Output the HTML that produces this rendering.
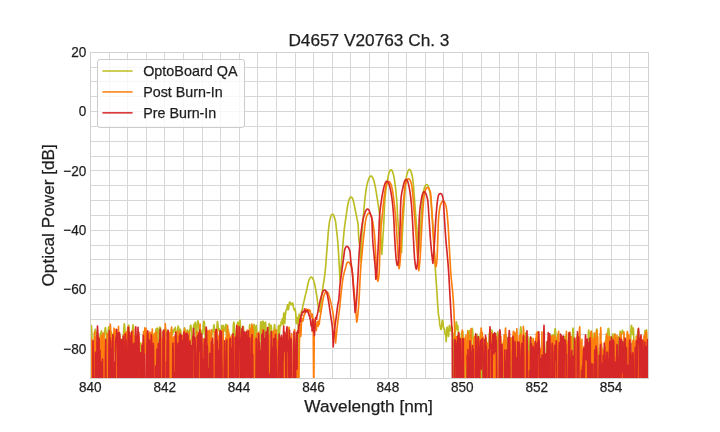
<!DOCTYPE html>
<html lang="en"><head><meta charset="utf-8"><title>D4657 V20763 Ch. 3</title>
<style>html,body{margin:0;padding:0;background:#fff}svg{display:block}text{font-family:"Liberation Sans",Arial,sans-serif;fill:#1e1e1e;stroke:#1e1e1e;stroke-width:0.25px}</style></head><body>
<svg width="720" height="432" viewBox="0 0 720 432">
<rect width="720" height="432" fill="#fff"/>
<path d="M109.5 52V379M127.5 52V379M146.5 52V379M164.5 52V379M183.5 52V379M202.5 52V379M220.5 52V379M239.5 52V379M257.5 52V379M276.5 52V379M295.5 52V379M313.5 52V379M332.5 52V379M350.5 52V379M369.5 52V379M388.5 52V379M406.5 52V379M425.5 52V379M443.5 52V379M462.5 52V379M481.5 52V379M499.5 52V379M518.5 52V379M536.5 52V379M555.5 52V379M574.5 52V379M592.5 52V379M611.5 52V379M629.5 52V379M90 363.5H649M90 348.5H649M90 334.5H649M90 319.5H649M90 304.5H649M90 289.5H649M90 274.5H649M90 259.5H649M90 245.5H649M90 230.5H649M90 215.5H649M90 200.5H649M90 185.5H649M90 170.5H649M90 156.5H649M90 141.5H649M90 126.5H649M90 111.5H649M90 96.5H649M90 81.5H649M90 67.5H649" stroke="#d7d7d7" stroke-width="1" fill="none"/>
<clipPath id="c"><rect x="90.0" y="51.84" width="558.0" height="326.15999999999997"/></clipPath>
<g clip-path="url(#c)" fill="none" stroke-width="1.65" stroke-linejoin="round">
<path d="M88.00 336.46 L88.25 332.61 L88.50 333.69 L88.75 346.75 L89.00 400.00 L89.25 400.00 L89.50 400.00 L89.75 347.40 L90.00 333.33 L90.25 328.66 L90.50 327.69 L90.75 328.01 L91.00 327.06 L91.25 325.48 L91.50 326.04 L91.75 330.51 L92.00 340.18 L92.25 355.63 L92.50 366.80 L92.75 373.59 L93.00 400.00 L93.25 400.00 L93.50 382.80 L93.75 354.07 L94.00 344.28 L94.25 338.99 L94.50 335.68 L94.75 332.67 L95.00 330.13 L95.25 329.35 L95.50 330.65 L95.75 332.73 L96.00 333.78 L96.25 333.90 L96.50 334.16 L96.75 334.94 L97.00 336.91 L97.25 341.35 L97.50 347.07 L97.75 347.85 L98.00 345.91 L98.25 348.81 L98.50 359.24 L98.75 362.25 L99.00 348.71 L99.25 340.44 L99.50 337.36 L99.75 337.39 L100.00 337.24 L100.25 334.92 L100.50 333.10 L100.75 333.18 L101.00 333.11 L101.25 331.55 L101.50 330.78 L101.75 333.30 L102.00 340.65 L102.25 351.12 L102.50 349.55 L102.75 341.88 L103.00 340.12 L103.25 346.09 L103.50 358.14 L103.75 350.14 L104.00 338.68 L104.25 334.10 L104.50 332.97 L104.75 331.74 L105.00 329.48 L105.25 327.76 L105.50 327.69 L105.75 329.37 L106.00 332.34 L106.25 336.73 L106.50 344.88 L106.75 364.58 L107.00 400.00 L107.25 400.00 L107.50 357.47 L107.75 344.61 L108.00 336.62 L108.25 331.55 L108.50 328.37 L108.75 326.90 L109.00 327.81 L109.25 331.89 L109.50 337.77 L109.75 339.10 L110.00 336.13 L110.25 335.02 L110.50 335.73 L110.75 335.19 L111.00 333.10 L111.25 331.94 L111.50 332.99 L111.75 335.85 L112.00 338.48 L112.25 338.24 L112.50 335.66 L112.75 334.60 L113.00 338.96 L113.25 351.98 L113.50 352.24 L113.75 337.81 L114.00 332.83 L114.25 335.33 L114.50 342.83 L114.75 350.34 L115.00 351.92 L115.25 347.67 L115.50 341.77 L115.75 337.88 L116.00 336.93 L116.25 339.00 L116.50 344.78 L116.75 356.95 L117.00 400.00 L117.25 400.00 L117.50 400.00 L117.75 368.44 L118.00 343.99 L118.25 335.13 L118.50 332.03 L118.75 332.11 L119.00 333.56 L119.25 334.93 L119.50 335.33 L119.75 335.50 L120.00 336.81 L120.25 339.56 L120.50 344.57 L120.75 356.62 L121.00 400.00 L121.25 359.47 L121.50 343.24 L121.75 339.30 L122.00 344.19 L122.25 362.47 L122.50 374.45 L122.75 347.88 L123.00 338.73 L123.25 335.86 L123.50 333.88 L123.75 330.12 L124.00 326.15 L124.25 323.89 L124.50 324.20 L124.75 327.29 L125.00 332.26 L125.25 336.19 L125.50 337.03 L125.75 337.09 L126.00 339.00 L126.25 343.34 L126.50 347.70 L126.75 348.25 L127.00 344.46 L127.25 337.41 L127.50 330.87 L127.75 327.39 L128.00 326.73 L128.25 326.76 L128.50 325.69 L128.75 325.16 L129.00 327.93 L129.25 335.87 L129.50 351.75 L129.75 399.74 L130.00 363.50 L130.25 344.00 L130.50 335.69 L130.75 334.22 L131.00 340.71 L131.25 374.71 L131.50 400.00 L131.75 353.61 L132.00 337.31 L132.25 331.82 L132.50 329.32 L132.75 326.86 L133.00 324.89 L133.25 325.36 L133.50 329.06 L133.75 335.21 L134.00 341.07 L134.25 342.08 L134.50 338.75 L134.75 336.23 L135.00 336.35 L135.25 338.05 L135.50 340.30 L135.75 343.78 L136.00 349.47 L136.25 359.04 L136.50 390.56 L136.75 400.00 L137.00 369.11 L137.25 350.49 L137.50 342.51 L137.75 337.97 L138.00 335.44 L138.25 335.18 L138.50 337.97 L138.75 345.11 L139.00 361.94 L139.25 400.00 L139.50 400.00 L139.75 400.00 L140.00 364.26 L140.25 349.44 L140.50 342.95 L140.75 343.89 L141.00 353.78 L141.25 369.08 L141.50 357.62 L141.75 349.03 L142.00 347.29 L142.25 349.56 L142.50 354.34 L142.75 355.05 L143.00 348.82 L143.25 343.88 L143.50 341.32 L143.75 339.47 L144.00 339.25 L144.25 342.10 L144.50 344.93 L144.75 342.43 L145.00 338.58 L145.25 336.85 L145.50 336.73 L145.75 337.07 L146.00 337.45 L146.25 338.08 L146.50 339.61 L146.75 341.91 L147.00 342.30 L147.25 339.99 L147.50 338.81 L147.75 341.22 L148.00 349.22 L148.25 400.00 L148.50 400.00 L148.75 400.00 L149.00 400.00 L149.25 379.47 L149.50 345.71 L149.75 338.70 L150.00 338.27 L150.25 342.75 L150.50 348.85 L150.75 346.51 L151.00 338.32 L151.25 333.28 L151.50 332.49 L151.75 334.41 L152.00 337.44 L152.25 340.72 L152.50 340.86 L152.75 337.01 L153.00 334.33 L153.25 334.56 L153.50 336.23 L153.75 337.50 L154.00 337.96 L154.25 339.16 L154.50 344.43 L154.75 362.75 L155.00 400.00 L155.25 364.61 L155.50 341.24 L155.75 332.74 L156.00 329.23 L156.25 328.68 L156.50 329.89 L156.75 331.12 L157.00 330.30 L157.25 328.34 L157.50 328.20 L157.75 331.47 L158.00 338.04 L158.25 345.82 L158.50 349.15 L158.75 344.30 L159.00 336.97 L159.25 331.39 L159.50 328.29 L159.75 327.16 L160.00 327.01 L160.25 327.26 L160.50 328.30 L160.75 331.22 L161.00 337.36 L161.25 347.95 L161.50 368.16 L161.75 400.00 L162.00 400.00 L162.25 400.00 L162.50 350.58 L162.75 341.35 L163.00 341.50 L163.25 349.76 L163.50 375.10 L163.75 400.00 L164.00 400.00 L164.25 400.00 L164.50 400.00 L164.75 347.90 L165.00 335.01 L165.25 329.21 L165.50 327.60 L165.75 329.30 L166.00 333.01 L166.25 335.50 L166.50 333.99 L166.75 331.25 L167.00 330.80 L167.25 334.45 L167.50 343.52 L167.75 357.30 L168.00 363.61 L168.25 360.55 L168.50 354.41 L168.75 344.78 L169.00 337.69 L169.25 335.22 L169.50 336.69 L169.75 339.30 L170.00 339.49 L170.25 338.73 L170.50 339.17 L170.75 337.83 L171.00 333.41 L171.25 329.84 L171.50 328.94 L171.75 330.32 L172.00 332.89 L172.25 334.88 L172.50 334.47 L172.75 332.23 L173.00 330.53 L173.25 330.74 L173.50 332.12 L173.75 332.05 L174.00 330.07 L174.25 328.88 L174.50 329.62 L174.75 330.35 L175.00 328.91 L175.25 327.42 L175.50 328.74 L175.75 333.20 L176.00 338.80 L176.25 343.92 L176.50 348.07 L176.75 344.44 L177.00 336.83 L177.25 332.31 L177.50 330.35 L177.75 328.74 L178.00 326.91 L178.25 326.07 L178.50 327.16 L178.75 330.28 L179.00 333.91 L179.25 334.46 L179.50 331.67 L179.75 329.38 L180.00 329.06 L180.25 329.59 L180.50 329.84 L180.75 330.77 L181.00 334.18 L181.25 341.59 L181.50 354.87 L181.75 363.67 L182.00 351.70 L182.25 344.64 L182.50 343.91 L182.75 348.07 L183.00 352.64 L183.25 346.62 L183.50 338.10 L183.75 333.57 L184.00 331.47 L184.25 329.44 L184.50 327.77 L184.75 328.54 L185.00 334.08 L185.25 350.75 L185.50 400.00 L185.75 400.00 L186.00 400.00 L186.25 360.24 L186.50 341.45 L186.75 333.45 L187.00 330.32 L187.25 329.89 L187.50 330.53 L187.75 331.68 L188.00 333.00 L188.25 333.42 L188.50 332.49 L188.75 331.30 L189.00 330.80 L189.25 330.96 L189.50 331.22 L189.75 330.82 L190.00 329.10 L190.25 326.88 L190.50 325.43 L190.75 325.14 L191.00 326.17 L191.25 328.86 L191.50 332.84 L191.75 336.47 L192.00 339.97 L192.25 348.71 L192.50 400.00 L192.75 400.00 L193.00 359.74 L193.25 336.07 L193.50 327.63 L193.75 324.48 L194.00 324.79 L194.25 327.05 L194.50 328.40 L194.75 326.55 L195.00 323.57 L195.25 322.42 L195.50 324.18 L195.75 328.90 L196.00 335.99 L196.25 343.01 L196.50 342.44 L196.75 334.89 L197.00 328.21 L197.25 324.16 L197.50 322.04 L197.75 321.03 L198.00 320.86 L198.25 321.51 L198.50 323.04 L198.75 325.68 L199.00 329.21 L199.25 332.66 L199.50 335.12 L199.75 336.34 L200.00 336.40 L200.25 336.64 L200.50 339.21 L200.75 345.61 L201.00 353.21 L201.25 348.37 L201.50 338.50 L201.75 332.61 L202.00 330.37 L202.25 330.63 L202.50 332.36 L202.75 333.62 L203.00 331.78 L203.25 327.76 L203.50 324.12 L203.75 321.87 L204.00 321.16 L204.25 321.77 L204.50 323.49 L204.75 326.85 L205.00 333.20 L205.25 342.14 L205.50 343.33 L205.75 335.73 L206.00 330.82 L206.25 330.02 L206.50 332.51 L206.75 337.99 L207.00 347.61 L207.25 360.04 L207.50 355.52 L207.75 345.14 L208.00 340.19 L208.25 341.41 L208.50 352.33 L208.75 400.00 L209.00 360.61 L209.25 342.03 L209.50 334.83 L209.75 332.08 L210.00 332.65 L210.25 336.43 L210.50 340.91 L210.75 341.56 L211.00 341.40 L211.25 343.88 L211.50 343.58 L211.75 337.29 L212.00 332.07 L212.25 330.19 L212.50 330.67 L212.75 331.66 L213.00 331.90 L213.25 331.05 L213.50 328.58 L213.75 325.70 L214.00 324.79 L214.25 326.62 L214.50 331.14 L214.75 341.95 L215.00 400.00 L215.25 400.00 L215.50 400.00 L215.75 400.00 L216.00 353.95 L216.25 339.45 L216.50 335.24 L216.75 331.19 L217.00 326.17 L217.25 322.58 L217.50 321.56 L217.75 322.81 L218.00 325.45 L218.25 328.40 L218.50 330.21 L218.75 329.89 L219.00 328.70 L219.25 328.70 L219.50 330.59 L219.75 333.04 L220.00 334.57 L220.25 337.25 L220.50 345.50 L220.75 371.38 L221.00 373.78 L221.25 342.11 L221.50 330.58 L221.75 325.83 L222.00 325.23 L222.25 327.20 L222.50 330.01 L222.75 331.34 L223.00 329.79 L223.25 327.04 L223.50 325.68 L223.75 326.59 L224.00 328.71 L224.25 329.52 L224.50 328.67 L224.75 328.80 L225.00 330.96 L225.25 331.73 L225.50 328.20 L225.75 324.68 L226.00 324.40 L226.25 328.82 L226.50 344.12 L226.75 400.00 L227.00 400.00 L227.25 400.00 L227.50 352.19 L227.75 334.73 L228.00 330.27 L228.25 329.49 L228.50 330.66 L228.75 333.39 L229.00 338.47 L229.25 355.02 L229.50 400.00 L229.75 400.00 L230.00 400.00 L230.25 400.00 L230.50 400.00 L230.75 400.00 L231.00 400.00 L231.25 400.00 L231.50 400.00 L231.75 377.34 L232.00 339.70 L232.25 334.38 L232.50 335.85 L232.75 338.60 L233.00 334.36 L233.25 327.50 L233.50 323.48 L233.75 322.20 L234.00 322.57 L234.25 324.45 L234.50 328.74 L234.75 335.52 L235.00 339.60 L235.25 336.66 L235.50 334.48 L235.75 336.88 L236.00 341.79 L236.25 341.07 L236.50 334.80 L236.75 329.77 L237.00 326.83 L237.25 324.86 L237.50 323.23 L237.75 322.20 L238.00 322.57 L238.25 325.26 L238.50 330.55 L238.75 336.14 L239.00 335.35 L239.25 328.92 L239.50 323.18 L239.75 320.24 L240.00 320.36 L240.25 322.97 L240.50 326.93 L240.75 331.51 L241.00 336.11 L241.25 338.37 L241.50 338.32 L241.75 338.40 L242.00 337.28 L242.25 333.66 L242.50 329.91 L242.75 327.54 L243.00 326.43 L243.25 326.31 L243.50 327.70 L243.75 332.54 L244.00 349.30 L244.25 400.00 L244.50 400.00 L244.75 400.00 L245.00 353.92 L245.25 336.78 L245.50 335.49 L245.75 341.00 L246.00 351.66 L246.25 363.22 L246.50 372.72 L246.75 386.10 L247.00 367.89 L247.25 355.79 L247.50 359.47 L247.75 400.00 L248.00 400.00 L248.25 400.00 L248.50 400.00 L248.75 400.00 L249.00 348.40 L249.25 332.70 L249.50 326.17 L249.75 324.67 L250.00 327.16 L250.25 333.37 L250.50 341.94 L250.75 346.63 L251.00 343.82 L251.25 338.33 L251.50 333.47 L251.75 330.73 L252.00 330.01 L252.25 330.50 L252.50 331.55 L252.75 332.64 L253.00 332.95 L253.25 331.48 L253.50 328.41 L253.75 325.51 L254.00 324.42 L254.25 325.82 L254.50 329.73 L254.75 336.37 L255.00 347.90 L255.25 358.36 L255.50 342.51 L255.75 331.06 L256.00 326.16 L256.25 325.40 L256.50 327.66 L256.75 333.35 L257.00 347.43 L257.25 400.00 L257.50 400.00 L257.75 400.00 L258.00 400.00 L258.25 400.00 L258.50 400.00 L258.75 400.00 L259.00 400.00 L259.25 364.61 L259.50 351.70 L259.75 350.41 L260.00 340.26 L260.25 330.53 L260.50 324.64 L260.75 321.82 L261.00 321.69 L261.25 324.12 L261.50 328.38 L261.75 332.37 L262.00 333.07 L262.25 330.15 L262.50 326.20 L262.75 322.98 L263.00 321.20 L263.25 321.25 L263.50 323.24 L263.75 327.20 L264.00 333.15 L264.25 339.07 L264.50 338.12 L264.75 331.20 L265.00 325.32 L265.25 322.34 L265.50 322.19 L265.75 324.40 L266.00 328.31 L266.25 332.38 L266.50 333.90 L266.75 332.98 L267.00 332.73 L267.25 334.65 L267.50 338.45 L267.75 342.61 L268.00 344.22 L268.25 342.14 L268.50 337.27 L268.75 331.12 L269.00 326.07 L269.25 323.61 L269.50 324.24 L269.75 328.00 L270.00 333.83 L270.25 336.76 L270.50 332.81 L270.75 327.74 L271.00 325.38 L271.25 326.11 L271.50 328.94 L271.75 332.24 L272.00 334.50 L272.25 334.76 L272.50 333.35 L272.75 332.20 L273.00 332.24 L273.25 333.03 L273.50 333.74 L273.75 333.08 L274.00 330.01 L274.25 326.38 L274.50 324.65 L274.75 325.82 L275.00 329.04 L275.25 330.75 L275.50 329.65 L275.75 329.87 L276.00 334.14 L276.25 343.44 L276.50 363.06 L276.75 400.00 L277.00 400.00 L277.25 400.00 L277.50 400.00 L277.75 349.14 L278.00 333.09 L278.25 326.95 L278.50 325.58 L278.75 327.68 L279.00 332.22 L279.25 335.80 L279.50 333.26 L279.75 328.15 L280.00 325.19 L280.25 325.00 L280.50 326.07 L280.75 325.58 L281.00 323.11 L281.25 321.42 L281.50 322.63 L282.00 322.86 L282.25 318.74 L282.50 319.56 L282.76 322.17 L283.01 324.94 L283.26 319.05 L283.51 316.02 L283.77 313.61 L284.02 312.96 L284.27 315.76 L284.52 322.59 L284.78 323.41 L285.03 319.16 L285.28 315.18 L285.53 313.97 L285.79 310.79 L286.04 310.52 L286.29 309.97 L286.54 308.98 L286.80 309.54 L287.05 309.64 L287.30 305.54 L287.55 304.71 L287.80 305.33 L288.06 307.86 L288.31 309.72 L288.56 309.02 L288.81 306.94 L289.07 304.34 L289.32 303.22 L289.57 302.30 L289.82 301.86 L290.08 302.86 L290.33 303.59 L290.58 304.24 L290.83 304.64 L291.09 304.81 L291.34 303.58 L291.59 303.50 L291.84 304.40 L292.10 304.69 L292.35 303.51 L292.60 302.93 L292.85 303.95 L293.10 305.10 L293.36 306.74 L293.61 307.73 L293.86 308.50 L294.11 309.32 L294.37 309.88 L294.62 308.82 L294.87 308.70 L295.12 310.86 L295.38 310.06 L295.63 312.35 L295.88 315.66 L296.13 322.44 L296.39 323.50 L296.64 317.22 L296.89 318.71 L297.14 317.30 L297.40 318.70 L297.65 319.11 L297.90 318.64 L298.15 326.23 L298.40 372.29 L298.65 336.61 L298.90 317.43 L299.16 313.97 L299.41 317.84 L299.66 321.93 L299.91 321.85 L300.16 318.03 L300.41 320.97 L300.66 318.76 L300.91 314.33 L301.16 312.80 L301.42 311.74 L301.67 310.38 L301.92 311.33 L302.17 310.58 L302.42 308.55 L302.67 306.97 L302.92 305.58 L303.17 303.98 L303.42 303.54 L303.68 302.49 L303.93 301.52 L304.18 300.32 L304.43 299.26 L304.68 298.06 L304.93 296.85 L305.18 295.90 L305.43 294.91 L305.69 294.02 L305.94 293.06 L306.19 292.10 L306.44 291.10 L306.69 290.04 L306.94 288.88 L307.19 287.61 L307.44 286.30 L307.69 285.00 L307.95 283.78 L308.20 282.70 L308.45 281.80 L308.70 280.99 L308.95 280.27 L309.20 279.62 L309.45 279.03 L309.70 278.53 L309.95 278.11 L310.21 277.74 L310.46 277.47 L310.71 277.30 L310.96 277.17 L311.21 277.10 L311.46 277.14 L311.71 277.25 L311.96 277.41 L312.21 277.64 L312.47 277.98 L312.72 278.39 L312.97 278.86 L313.22 279.43 L313.47 280.06 L313.72 280.75 L313.97 281.53 L314.22 282.40 L314.48 283.39 L314.73 284.48 L314.98 285.67 L315.23 286.93 L315.48 288.25 L315.73 289.62 L315.98 291.02 L316.23 292.51 L316.48 294.08 L316.74 295.73 L316.99 297.48 L317.24 299.42 L317.49 301.77 L317.74 303.97 L317.99 305.46 L318.24 306.72 L318.49 307.92 L318.74 309.02 L319.00 310.00 L319.25 310.83 L319.50 311.46 L319.75 311.86 L320.00 312.00 L320.25 309.50 L320.50 307.05 L320.76 304.65 L321.01 302.31 L321.26 300.02 L321.51 297.80 L321.77 295.65 L322.02 293.58 L322.27 291.58 L322.52 289.71 L322.78 287.98 L323.03 286.36 L323.28 284.81 L323.54 283.28 L323.79 281.74 L324.04 280.15 L324.29 278.48 L324.55 276.68 L324.80 274.72 L325.05 272.55 L325.30 270.06 L325.56 267.26 L325.81 264.22 L326.06 261.03 L326.31 257.75 L326.56 254.47 L326.82 251.27 L327.07 248.11 L327.32 244.78 L327.57 241.36 L327.83 237.97 L328.08 234.73 L328.33 231.75 L328.58 229.14 L328.84 226.85 L329.09 224.75 L329.34 222.93 L329.59 221.47 L329.85 220.22 L330.10 219.10 L330.35 218.11 L330.61 217.24 L330.86 216.48 L331.11 215.84 L331.36 215.28 L331.62 214.84 L331.87 214.57 L332.12 214.35 L332.37 214.22 L332.62 214.22 L332.88 214.35 L333.13 214.56 L333.38 214.84 L333.63 215.28 L333.89 215.84 L334.14 216.48 L334.39 217.26 L334.64 218.13 L334.90 219.02 L335.15 219.91 L335.40 220.96 L335.65 222.35 L335.91 224.38 L336.16 226.78 L336.41 229.11 L336.66 231.21 L336.92 233.26 L337.17 235.47 L337.42 237.99 L337.68 240.95 L337.93 244.28 L338.18 247.92 L338.43 251.79 L338.69 255.83 L338.94 259.97 L339.19 264.38 L339.44 269.17 L339.69 273.60 L339.95 277.68 L340.20 281.50 L340.45 277.51 L340.70 273.62 L340.95 269.84 L341.20 266.19 L341.45 262.65 L341.70 259.25 L341.95 255.99 L342.20 252.85 L342.46 249.81 L342.71 246.85 L342.96 243.94 L343.21 241.06 L343.46 238.17 L343.71 235.23 L343.96 232.40 L344.21 229.83 L344.46 227.62 L344.71 225.62 L344.96 223.76 L345.21 222.01 L345.46 220.33 L345.71 218.68 L345.96 217.02 L346.21 215.31 L346.47 213.54 L346.72 211.76 L346.97 210.01 L347.22 208.34 L347.47 206.79 L347.72 205.41 L347.97 204.20 L348.22 203.05 L348.47 201.98 L348.72 201.00 L348.97 200.13 L349.22 199.40 L349.47 198.78 L349.72 198.22 L349.97 197.76 L350.22 197.46 L350.47 197.29 L350.73 197.16 L350.98 197.10 L351.23 197.14 L351.48 197.26 L351.73 197.42 L351.98 197.65 L352.23 197.99 L352.48 198.41 L352.73 198.97 L352.98 199.71 L353.23 200.56 L353.48 201.47 L353.73 202.51 L353.98 203.65 L354.23 204.86 L354.48 206.13 L354.73 207.42 L354.99 208.72 L355.24 209.99 L355.49 211.22 L355.74 212.42 L355.99 213.60 L356.24 214.80 L356.49 216.02 L356.74 217.28 L356.99 218.60 L357.24 219.93 L357.49 221.09 L357.74 222.36 L357.99 224.05 L358.24 226.64 L358.49 233.66 L358.74 237.90 L359.00 240.49 L359.25 242.48 L359.50 244.24 L359.75 246.12 L360.00 248.47 L360.25 251.39 L360.50 254.67 L360.75 258.23 L361.00 262.00 L361.25 251.23 L361.50 242.53 L361.75 236.87 L362.00 232.67 L362.25 229.21 L362.50 225.95 L362.75 222.75 L363.00 219.78 L363.26 216.97 L363.51 214.26 L363.76 211.58 L364.01 208.86 L364.26 206.03 L364.51 202.99 L364.76 200.32 L365.01 198.10 L365.26 196.01 L365.51 194.04 L365.76 192.20 L366.01 190.48 L366.26 188.89 L366.51 187.42 L366.76 186.08 L367.01 184.86 L367.27 183.78 L367.52 182.82 L367.77 181.92 L368.02 181.07 L368.27 180.26 L368.52 179.51 L368.77 178.84 L369.02 178.24 L369.27 177.70 L369.52 177.25 L369.77 176.86 L370.02 176.53 L370.27 176.31 L370.52 176.15 L370.77 176.04 L371.02 176.00 L371.27 176.06 L371.53 176.18 L371.78 176.34 L372.03 176.58 L372.28 176.93 L372.53 177.33 L372.78 177.80 L373.03 178.35 L373.28 178.96 L373.53 179.64 L373.78 180.40 L374.03 181.24 L374.28 182.19 L374.53 183.23 L374.78 184.37 L375.03 185.57 L375.28 186.84 L375.53 188.18 L375.79 189.59 L376.04 191.05 L376.29 192.57 L376.54 194.13 L376.79 195.73 L377.04 197.36 L377.29 199.00 L377.54 200.66 L377.79 202.24 L378.04 203.74 L378.29 205.21 L378.54 206.71 L378.79 208.30 L379.04 210.03 L379.29 211.97 L379.54 214.16 L379.80 216.67 L380.05 219.60 L380.30 224.31 L380.55 230.29 L380.80 235.95 L381.05 240.85 L381.30 245.58 L381.55 250.14 L381.80 254.50 L382.05 250.77 L382.31 246.95 L382.56 243.04 L382.81 239.05 L383.06 234.99 L383.32 230.96 L383.57 226.84 L383.82 222.43 L384.07 217.42 L384.33 210.80 L384.58 204.55 L384.83 200.85 L385.08 197.88 L385.34 195.20 L385.59 192.78 L385.84 190.58 L386.09 188.59 L386.35 186.77 L386.60 185.09 L386.85 183.55 L387.10 182.09 L387.36 180.71 L387.61 179.37 L387.86 178.04 L388.11 176.72 L388.37 175.54 L388.62 174.50 L388.87 173.56 L389.12 172.70 L389.38 171.95 L389.63 171.34 L389.88 170.78 L390.13 170.36 L390.39 170.09 L390.64 169.89 L390.89 169.76 L391.14 169.77 L391.40 169.91 L391.65 170.13 L391.90 170.41 L392.16 170.86 L392.41 171.42 L392.66 172.05 L392.91 172.82 L393.17 173.69 L393.42 174.64 L393.67 175.68 L393.92 176.90 L394.18 178.30 L394.43 179.81 L394.68 181.44 L394.93 183.19 L395.19 185.08 L395.44 187.12 L395.69 189.33 L395.94 191.71 L396.20 194.27 L396.45 197.04 L396.70 200.01 L396.95 203.26 L397.21 208.06 L397.46 213.69 L397.71 218.46 L397.96 221.85 L398.22 225.18 L398.47 228.45 L398.72 231.64 L398.97 234.71 L399.23 237.63 L399.48 240.38 L399.73 242.94 L399.98 245.26 L400.24 247.32 L400.49 249.09 L400.74 250.55 L400.99 251.67 L401.25 252.41 L401.50 252.75 L401.75 247.25 L402.00 241.86 L402.25 236.63 L402.50 231.60 L402.75 226.83 L403.00 222.35 L403.25 218.19 L403.50 214.13 L403.75 210.08 L404.00 206.06 L404.25 202.12 L404.50 198.30 L404.75 194.63 L405.00 191.15 L405.25 187.90 L405.50 184.91 L405.75 182.23 L406.00 179.89 L406.25 177.94 L406.50 176.39 L406.75 175.20 L407.00 174.21 L407.25 173.29 L407.50 172.43 L407.75 171.67 L408.00 171.05 L408.25 170.50 L408.50 170.05 L408.75 169.78 L409.00 169.57 L409.25 169.43 L409.50 169.41 L409.75 169.53 L410.00 169.73 L410.25 169.99 L410.50 170.40 L410.75 170.94 L411.00 171.54 L411.25 172.27 L411.50 173.11 L411.75 174.02 L412.00 175.00 L412.25 176.14 L412.50 177.57 L412.75 179.37 L413.00 181.51 L413.25 183.96 L413.50 186.66 L413.75 189.58 L414.00 192.68 L414.25 195.92 L414.50 199.26 L414.75 202.65 L415.00 206.05 L415.25 209.43 L415.50 212.74 L415.75 215.95 L416.00 219.00 L416.25 221.97 L416.50 224.95 L416.75 227.94 L417.00 230.93 L417.25 233.93 L417.50 236.94 L417.75 239.96 L418.00 242.99 L418.25 246.02 L418.50 249.06 L418.75 252.10 L419.00 248.01 L419.25 244.01 L419.50 240.10 L419.75 236.29 L420.00 232.58 L420.25 229.00 L420.50 225.53 L420.75 222.20 L421.00 219.00 L421.25 215.83 L421.50 212.59 L421.75 209.36 L422.00 206.18 L422.25 203.11 L422.50 200.22 L422.75 197.54 L423.00 195.15 L423.25 193.10 L423.50 191.44 L423.75 190.20 L424.00 189.25 L424.25 188.45 L424.50 187.69 L424.75 186.99 L425.00 186.38 L425.25 185.88 L425.50 185.43 L425.75 185.09 L426.00 184.88 L426.25 184.71 L426.50 184.61 L426.75 184.62 L427.00 184.74 L427.25 184.92 L427.50 185.14 L427.75 185.52 L428.00 185.98 L428.25 186.50 L428.50 187.12 L428.75 187.84 L429.00 188.61 L429.25 189.43 L429.50 190.43 L429.75 191.70 L430.00 193.29 L430.25 195.18 L430.50 197.33 L430.75 199.72 L431.00 202.30 L431.25 205.05 L431.50 207.94 L431.75 210.94 L432.00 214.01 L432.25 217.12 L432.50 220.28 L432.75 223.75 L433.00 227.53 L433.25 231.59 L433.50 235.87 L433.75 240.31 L434.00 244.85 L434.25 249.46 L434.50 254.06 L434.75 258.62 L435.00 263.07 L435.25 267.36 L435.50 271.44 L435.75 275.27 L436.00 278.90 L436.25 282.43 L436.50 285.93 L436.75 289.48 L437.00 293.20 L437.25 297.28 L437.50 301.45 L437.75 305.59 L438.00 308.97 L438.25 311.94 L438.50 315.33 L438.75 316.43 L439.00 317.44 L439.25 318.92 L439.50 321.08 L439.70 324.79 L439.95 325.23 L440.20 326.13 L440.45 327.66 L440.70 329.06 L440.95 329.53 L441.20 329.45 L441.45 328.57 L441.70 326.04 L441.95 322.86 L442.20 320.67 L442.45 320.08 L442.70 320.82 L442.95 322.59 L443.20 324.95 L443.45 326.94 L443.70 327.94 L443.95 328.53 L444.20 328.97 L444.45 329.15 L444.70 330.20 L444.95 332.94 L445.20 334.64 L445.45 333.69 L445.70 334.00 L445.95 337.96 L446.20 341.63 L446.45 337.29 L446.70 330.75 L446.95 327.36 L447.20 327.23 L447.45 328.94 L447.70 330.93 L447.95 332.84 L448.20 334.84 L448.45 336.50 L448.70 335.45 L448.95 331.07 L449.20 326.93 L449.45 325.26 L449.70 326.08 L449.95 328.28 L450.20 330.12 L450.45 330.40 L450.70 329.98 L450.95 330.31 L451.20 330.92 L451.45 329.76 L451.70 327.25 L451.95 326.10 L452.20 328.00 L452.45 332.68 L452.70 336.33 L452.95 334.85 L453.20 333.44 L453.45 338.07 L453.70 361.58 L453.95 400.00 L454.20 364.85 L454.45 339.40 L454.70 333.92 L454.95 333.25 L455.20 333.05 L455.45 331.23 L455.70 328.06 L455.95 324.57 L456.20 322.16 L456.45 321.88 L456.70 324.11 L456.95 327.85 L457.20 329.39 L457.45 327.24 L457.70 325.48 L457.95 326.84 L458.20 332.26 L458.45 342.51 L458.70 355.97 L458.95 356.85 L459.20 348.78 L459.45 346.12 L459.70 357.97 L459.95 400.00 L460.20 400.00 L460.45 400.00 L460.70 400.00 L460.96 362.68 L461.21 339.79 L461.46 334.38 L461.71 332.65 L461.96 332.31 L462.21 332.07 L462.46 331.44 L462.71 331.31 L462.96 333.83 L463.21 342.47 L463.46 400.00 L463.71 400.00 L463.96 400.00 L464.21 367.69 L464.46 348.67 L464.71 346.71 L464.96 347.82 L465.21 346.74 L465.46 347.14 L465.71 357.94 L465.96 400.00 L466.21 400.00 L466.46 400.00 L466.71 400.00 L466.96 369.84 L467.21 343.60 L467.46 334.29 L467.71 330.60 L467.96 331.02 L468.21 334.20 L468.46 336.34 L468.71 334.12 L468.96 331.06 L469.21 330.57 L469.46 333.38 L469.71 339.20 L469.96 346.93 L470.21 352.53 L470.46 349.96 L470.71 344.46 L470.96 341.21 L471.21 339.42 L471.46 336.52 L471.71 332.49 L471.96 329.45 L472.21 328.40 L472.46 329.22 L472.71 331.90 L472.96 337.49 L473.21 349.13 L473.46 385.20 L473.71 400.00 L473.96 400.00 L474.21 400.00 L474.46 400.00 L474.71 400.00 L474.96 373.70 L475.21 355.97 L475.46 355.33 L475.71 366.91 L475.96 400.00 L476.21 400.00 L476.46 353.53 L476.71 340.31 L476.96 335.04 L477.21 334.44 L477.46 337.74 L477.71 343.64 L477.96 347.83 L478.21 346.04 L478.46 341.74 L478.71 338.42 L478.96 337.26 L479.21 339.33 L479.46 344.83 L479.71 348.91 L479.96 344.30 L480.21 337.52 L480.46 333.41 L480.71 332.22 L480.96 333.43 L481.21 337.59 L481.46 350.59 L481.71 400.00 L481.96 400.00 L482.21 380.25 L482.46 345.38 L482.71 342.87 L482.96 347.67 L483.21 355.24 L483.46 356.26 L483.71 352.66 L483.96 354.05 L484.21 377.17 L484.46 400.00 L484.71 400.00 L484.96 400.00 L485.21 400.00 L485.46 346.81 L485.71 339.50 L485.96 337.53 L486.21 338.67 L486.46 341.34 L486.71 343.56 L486.96 346.73 L487.21 362.20 L487.46 400.00 L487.71 400.00 L487.96 400.00 L488.21 400.00 L488.46 400.00 L488.71 389.93 L488.96 340.01 L489.21 333.72 L489.46 333.90 L489.71 340.32 L489.96 381.07 L490.21 400.00 L490.46 400.00 L490.71 400.00 L490.96 390.17 L491.21 341.57 L491.46 333.11 L491.71 330.11 L491.96 330.44 L492.21 332.92 L492.46 336.29 L492.71 339.12 L492.96 341.73 L493.21 346.55 L493.46 353.91 L493.71 361.52 L493.96 400.00 L494.21 400.00 L494.46 400.00 L494.71 400.00 L494.96 400.00 L495.21 355.63 L495.46 340.56 L495.71 338.41 L495.96 346.00 L496.21 400.00 L496.46 400.00 L496.71 400.00 L496.96 380.68 L497.21 340.23 L497.46 333.28 L497.71 331.97 L497.96 333.57 L498.21 336.30 L498.46 339.03 L498.71 341.56 L498.96 344.34 L499.21 347.84 L499.46 350.25 L499.71 348.79 L499.96 345.02 L500.21 341.84 L500.46 340.93 L500.71 342.29 L500.96 343.65 L501.21 344.93 L501.46 355.13 L501.71 400.00 L501.96 400.00 L502.21 400.00 L502.46 400.00 L502.71 400.00 L502.97 400.00 L503.22 346.17 L503.47 342.48 L503.72 345.66 L503.97 351.02 L504.22 352.31 L504.47 349.66 L504.72 347.12 L504.97 344.87 L505.22 341.39 L505.47 337.23 L505.72 334.46 L505.97 334.60 L506.22 339.09 L506.47 349.03 L506.72 354.94 L506.97 346.88 L507.22 342.68 L507.47 345.26 L507.72 355.07 L507.97 400.00 L508.22 400.00 L508.47 400.00 L508.72 367.78 L508.97 347.88 L509.22 343.66 L509.47 344.34 L509.72 348.11 L509.97 357.29 L510.22 391.85 L510.47 400.00 L510.72 360.89 L510.97 348.02 L511.22 344.06 L511.47 347.19 L511.72 363.77 L511.97 400.00 L512.22 400.00 L512.47 400.00 L512.72 375.68 L512.97 349.63 L513.22 341.40 L513.47 337.80 L513.72 338.16 L513.97 343.29 L514.22 356.18 L514.47 400.00 L514.72 368.52 L514.97 345.21 L515.22 336.07 L515.47 333.49 L515.72 337.25 L515.97 357.12 L516.22 400.00 L516.47 400.00 L516.72 400.00 L516.97 400.00 L517.22 400.00 L517.47 385.71 L517.72 365.86 L517.97 353.44 L518.22 346.09 L518.47 344.53 L518.72 346.42 L518.97 348.21 L519.22 347.47 L519.47 344.29 L519.72 340.17 L519.97 336.28 L520.22 332.52 L520.47 329.03 L520.72 326.94 L520.97 327.42 L521.22 331.45 L521.47 341.09 L521.72 383.06 L521.97 400.00 L522.22 400.00 L522.47 400.00 L522.72 379.43 L522.97 370.65 L523.22 362.97 L523.47 348.83 L523.72 340.20 L523.97 336.70 L524.22 337.35 L524.47 342.41 L524.72 353.81 L524.97 361.51 L525.22 345.35 L525.47 335.37 L525.72 332.71 L525.97 335.73 L526.22 342.82 L526.47 349.31 L526.72 348.44 L526.97 343.30 L527.22 338.86 L527.47 336.51 L527.72 336.20 L527.97 338.04 L528.22 343.78 L528.47 359.30 L528.72 400.00 L528.97 362.17 L529.22 348.00 L529.47 345.32 L529.72 346.75 L529.97 344.86 L530.22 339.91 L530.47 338.22 L530.72 341.30 L530.97 345.65 L531.22 344.09 L531.47 339.57 L531.72 338.05 L531.97 343.80 L532.22 400.00 L532.47 400.00 L532.72 400.00 L532.97 400.00 L533.22 400.00 L533.47 400.00 L533.72 391.06 L533.97 376.20 L534.22 358.14 L534.47 349.52 L534.72 346.09 L534.97 344.64 L535.22 343.52 L535.47 345.29 L535.72 364.68 L535.97 400.00 L536.22 400.00 L536.47 400.00 L536.72 400.00 L536.97 400.00 L537.22 400.00 L537.47 400.00 L537.72 400.00 L537.97 400.00 L538.22 400.00 L538.47 361.05 L538.72 344.55 L538.97 346.87 L539.22 400.00 L539.47 400.00 L539.72 400.00 L539.97 400.00 L540.22 400.00 L540.47 400.00 L540.72 400.00 L540.97 363.12 L541.22 356.77 L541.47 357.81 L541.72 356.81 L541.97 352.60 L542.22 351.02 L542.47 354.75 L542.72 363.55 L542.97 369.33 L543.22 371.13 L543.47 400.00 L543.72 400.00 L543.97 400.00 L544.22 400.00 L544.47 370.89 L544.72 354.38 L544.98 367.42 L545.23 400.00 L545.48 400.00 L545.73 400.00 L545.98 359.53 L546.23 350.07 L546.48 344.47 L546.73 342.11 L546.98 342.32 L547.23 342.64 L547.48 343.77 L547.73 352.19 L547.98 400.00 L548.23 400.00 L548.48 350.60 L548.73 345.10 L548.98 348.72 L549.23 357.64 L549.48 400.00 L549.73 400.00 L549.98 400.00 L550.23 400.00 L550.48 400.00 L550.73 355.35 L550.98 341.55 L551.23 337.26 L551.48 335.79 L551.73 336.02 L551.98 336.97 L552.23 336.88 L552.48 335.39 L552.73 334.80 L552.98 337.01 L553.23 341.57 L553.48 344.63 L553.73 344.01 L553.98 342.71 L554.23 340.72 L554.48 336.68 L554.73 332.19 L554.98 329.22 L555.23 328.48 L555.48 330.06 L555.73 333.65 L555.98 338.31 L556.23 342.41 L556.48 347.35 L556.73 368.86 L556.98 400.00 L557.23 400.00 L557.48 348.50 L557.73 336.83 L557.98 333.61 L558.23 334.13 L558.48 338.37 L558.73 349.91 L558.98 400.00 L559.23 400.00 L559.48 400.00 L559.73 400.00 L559.98 400.00 L560.23 400.00 L560.48 400.00 L560.73 400.00 L560.98 400.00 L561.23 353.58 L561.48 346.29 L561.73 350.96 L561.98 400.00 L562.23 400.00 L562.48 400.00 L562.73 400.00 L562.98 400.00 L563.23 400.00 L563.48 400.00 L563.73 359.43 L563.98 344.93 L564.23 340.32 L564.48 337.95 L564.73 336.66 L564.98 336.38 L565.23 336.29 L565.48 336.18 L565.73 337.28 L565.98 340.57 L566.23 346.07 L566.48 353.15 L566.73 359.20 L566.98 360.39 L567.23 362.06 L567.48 378.14 L567.73 400.00 L567.98 368.09 L568.23 344.45 L568.48 335.32 L568.73 332.48 L568.98 333.67 L569.23 335.80 L569.48 335.47 L569.73 334.22 L569.98 334.98 L570.23 338.31 L570.48 343.44 L570.73 349.25 L570.98 355.12 L571.23 360.49 L571.48 368.50 L571.73 400.00 L571.98 400.00 L572.23 360.22 L572.48 338.95 L572.73 330.80 L572.98 328.15 L573.23 329.20 L573.48 333.38 L573.73 341.52 L573.98 357.09 L574.23 372.29 L574.48 353.17 L574.73 343.17 L574.98 340.43 L575.23 342.56 L575.48 346.53 L575.73 346.70 L575.98 344.25 L576.23 344.84 L576.48 348.94 L576.73 348.66 L576.98 341.64 L577.23 336.56 L577.48 335.31 L577.73 336.54 L577.98 338.27 L578.23 340.26 L578.48 345.05 L578.73 358.93 L578.98 400.00 L579.23 400.00 L579.48 400.00 L579.73 358.04 L579.98 351.41 L580.23 357.30 L580.48 400.00 L580.73 400.00 L580.98 400.00 L581.23 400.00 L581.48 400.00 L581.73 400.00 L581.98 380.94 L582.23 400.00 L582.48 400.00 L582.73 400.00 L582.98 400.00 L583.23 400.00 L583.48 385.95 L583.73 357.68 L583.98 353.14 L584.23 351.55 L584.48 351.06 L584.73 355.74 L584.98 400.00 L585.23 400.00 L585.48 400.00 L585.73 400.00 L585.98 353.80 L586.23 352.69 L586.48 371.17 L586.73 400.00 L586.99 400.00 L587.24 400.00 L587.49 400.00 L587.74 400.00 L587.99 351.04 L588.24 336.96 L588.49 331.05 L588.74 330.06 L588.99 332.43 L589.24 338.42 L589.49 352.53 L589.74 400.00 L589.99 359.72 L590.24 342.52 L590.49 335.85 L590.74 332.97 L590.99 331.81 L591.24 331.36 L591.49 331.36 L591.74 332.25 L591.99 334.08 L592.24 335.75 L592.49 336.26 L592.74 337.05 L592.99 341.31 L593.24 356.60 L593.49 400.00 L593.74 400.00 L593.99 400.00 L594.24 400.00 L594.49 400.00 L594.74 400.00 L594.99 400.00 L595.24 344.69 L595.49 336.47 L595.74 334.02 L595.99 333.43 L596.24 332.59 L596.49 330.80 L596.74 329.14 L596.99 329.17 L597.24 332.45 L597.49 341.14 L597.74 357.72 L597.99 362.26 L598.24 351.70 L598.49 351.17 L598.74 375.78 L598.99 400.00 L599.24 400.00 L599.49 369.24 L599.74 353.52 L599.99 369.32 L600.24 400.00 L600.49 400.00 L600.74 400.00 L600.99 400.00 L601.24 400.00 L601.49 366.81 L601.74 350.05 L601.99 347.75 L602.24 356.60 L602.49 400.00 L602.74 400.00 L602.99 369.72 L603.24 352.15 L603.49 350.13 L603.74 362.63 L603.99 400.00 L604.24 400.00 L604.49 400.00 L604.74 368.77 L604.99 356.89 L605.24 361.43 L605.49 361.75 L605.74 349.36 L605.99 340.31 L606.24 336.29 L606.49 336.36 L606.74 339.75 L606.99 343.85 L607.24 342.30 L607.49 336.36 L607.74 331.76 L607.99 329.44 L608.24 328.53 L608.49 328.29 L608.74 328.78 L608.99 330.73 L609.24 334.90 L609.49 340.84 L609.74 344.41 L609.99 341.76 L610.24 338.04 L610.49 336.69 L610.74 337.08 L610.99 337.98 L611.24 340.04 L611.49 344.99 L611.74 353.41 L611.99 356.87 L612.24 346.69 L612.49 337.74 L612.74 333.99 L612.99 334.81 L613.24 338.27 L613.49 340.61 L613.74 340.91 L613.99 342.70 L614.24 346.26 L614.49 344.62 L614.74 337.97 L614.99 333.89 L615.24 334.93 L615.49 344.59 L615.74 400.00 L615.99 400.00 L616.24 400.00 L616.49 400.00 L616.74 359.54 L616.99 351.92 L617.24 355.31 L617.49 353.86 L617.74 343.64 L617.99 336.95 L618.24 336.65 L618.49 346.69 L618.74 400.00 L618.99 400.00 L619.24 400.00 L619.49 400.00 L619.74 340.49 L619.99 332.99 L620.24 331.20 L620.49 332.49 L620.74 334.90 L620.99 335.80 L621.24 334.84 L621.49 333.82 L621.74 333.15 L621.99 332.00 L622.24 330.61 L622.49 330.23 L622.74 331.22 L622.99 332.60 L623.24 333.29 L623.49 333.63 L623.74 334.65 L623.99 337.59 L624.24 346.04 L624.49 400.00 L624.74 400.00 L624.99 400.00 L625.24 400.00 L625.49 400.00 L625.74 400.00 L625.99 400.00 L626.24 400.00 L626.49 400.00 L626.74 400.00 L626.99 400.00 L627.24 400.00 L627.49 362.78 L627.74 351.70 L627.99 354.34 L628.24 371.99 L628.49 400.00 L628.74 400.00 L629.00 400.00 L629.25 400.00 L629.50 400.00 L629.75 400.00 L630.00 400.00 L630.25 400.00 L630.50 356.46 L630.75 336.55 L631.00 329.01 L631.25 325.76 L631.50 325.29 L631.75 326.67 L632.00 329.29 L632.25 332.65 L632.50 334.55 L632.75 332.61 L633.00 329.37 L633.25 328.01 L633.50 330.11 L633.75 337.54 L634.00 354.17 L634.25 364.91 L634.50 348.93 L634.75 344.32 L635.00 350.67 L635.25 400.00 L635.50 400.00 L635.75 400.00 L636.00 352.34 L636.25 339.46 L636.50 336.03 L636.75 337.17 L637.00 340.87 L637.25 342.62 L637.50 338.39 L637.75 332.77 L638.00 329.59 L638.25 329.53 L638.50 332.52 L638.75 338.29 L639.00 346.09 L639.25 354.62 L639.50 362.32 L639.75 369.18 L640.00 400.00 L640.25 400.00 L640.50 400.00 L640.75 400.00 L641.00 400.00 L641.25 400.00 L641.50 400.00 L641.75 360.18 L642.00 345.64 L642.25 340.77 L642.50 341.07 L642.75 344.72 L643.00 351.37 L643.25 366.33 L643.50 400.00 L643.75 400.00 L644.00 370.27 L644.25 353.06 L644.50 341.16 L644.75 333.77 L645.00 330.63 L645.25 331.48 L645.50 336.17 L645.75 341.27 L646.00 337.95 L646.25 331.82 L646.50 329.72 L646.75 332.81 L647.00 344.62 L647.25 400.00 L647.50 400.00 L647.75 400.00 L648.00 400.00 L648.25 400.00 L648.50 400.00 L648.75 352.44 L649.00 341.05 L649.25 335.22 L649.50 332.88 L649.75 334.21 L650.00 339.07" stroke="#bcbd22"/>
<path d="M88.00 348.42 L88.25 331.24 L88.50 339.96 L88.75 400.00 L89.00 400.00 L89.25 337.75 L89.50 329.15 L89.75 355.89 L90.00 377.54 L90.25 341.23 L90.50 400.00 L90.75 400.00 L91.00 338.03 L91.25 339.67 L91.50 347.62 L91.75 368.41 L92.00 400.00 L92.25 360.90 L92.50 400.00 L92.75 400.00 L93.00 364.47 L93.25 342.38 L93.50 400.00 L93.75 400.00 L94.00 400.00 L94.25 350.26 L94.50 332.02 L94.75 335.81 L95.00 342.14 L95.26 336.25 L95.51 400.00 L95.76 400.00 L96.01 345.26 L96.26 342.04 L96.51 400.00 L96.76 400.00 L97.01 400.00 L97.26 400.00 L97.51 354.63 L97.76 352.21 L98.01 400.00 L98.26 400.00 L98.51 400.00 L98.76 366.91 L99.01 400.00 L99.26 400.00 L99.51 340.69 L99.76 340.16 L100.01 400.00 L100.26 400.00 L100.51 362.69 L100.76 400.00 L101.01 335.87 L101.26 400.00 L101.51 400.00 L101.76 400.00 L102.01 335.92 L102.26 352.97 L102.51 400.00 L102.76 400.00 L103.01 333.11 L103.26 333.84 L103.51 334.99 L103.76 333.36 L104.01 345.77 L104.26 400.00 L104.51 400.00 L104.76 400.00 L105.01 340.00 L105.26 400.00 L105.51 400.00 L105.76 400.00 L106.01 350.97 L106.26 349.98 L106.51 400.00 L106.76 400.00 L107.01 400.00 L107.26 333.51 L107.51 336.20 L107.76 349.40 L108.01 400.00 L108.26 355.92 L108.51 364.51 L108.76 343.98 L109.01 400.00 L109.27 389.30 L109.52 362.19 L109.77 343.56 L110.02 337.43 L110.27 324.20 L110.52 326.41 L110.77 333.73 L111.02 400.00 L111.27 400.00 L111.52 400.00 L111.77 400.00 L112.02 400.00 L112.27 339.07 L112.52 337.19 L112.77 400.00 L113.02 400.00 L113.27 400.00 L113.52 366.77 L113.77 335.72 L114.02 328.20 L114.27 345.03 L114.52 340.42 L114.77 340.19 L115.02 329.20 L115.27 332.49 L115.52 334.44 L115.77 400.00 L116.02 400.00 L116.27 400.00 L116.52 332.93 L116.77 338.02 L117.02 400.00 L117.27 400.00 L117.52 354.33 L117.77 400.00 L118.02 400.00 L118.27 339.19 L118.52 326.33 L118.77 352.91 L119.02 400.00 L119.27 400.00 L119.52 400.00 L119.77 347.52 L120.02 337.68 L120.27 350.14 L120.52 348.37 L120.77 352.88 L121.02 400.00 L121.27 400.00 L121.52 400.00 L121.77 400.00 L122.02 400.00 L122.27 400.00 L122.52 400.00 L122.77 400.00 L123.02 342.10 L123.28 400.00 L123.53 375.10 L123.78 338.15 L124.03 334.71 L124.28 333.98 L124.53 400.00 L124.78 353.08 L125.03 400.00 L125.28 352.76 L125.53 335.88 L125.78 332.23 L126.03 333.84 L126.28 339.75 L126.53 332.01 L126.78 359.93 L127.03 368.68 L127.28 342.62 L127.53 354.41 L127.78 327.50 L128.03 328.57 L128.28 326.76 L128.53 346.90 L128.78 400.00 L129.03 351.96 L129.28 342.70 L129.53 400.00 L129.78 352.48 L130.03 345.72 L130.28 333.04 L130.53 367.84 L130.78 341.16 L131.03 400.00 L131.28 400.00 L131.53 400.00 L131.78 400.00 L132.03 358.81 L132.28 336.26 L132.53 343.52 L132.78 336.58 L133.03 330.06 L133.28 341.10 L133.53 354.25 L133.78 400.00 L134.03 400.00 L134.28 384.72 L134.53 400.00 L134.78 353.24 L135.03 346.96 L135.28 336.27 L135.53 366.57 L135.78 400.00 L136.03 366.27 L136.28 400.00 L136.53 400.00 L136.78 373.70 L137.03 400.00 L137.29 400.00 L137.54 400.00 L137.79 400.00 L138.04 400.00 L138.29 400.00 L138.54 400.00 L138.79 336.02 L139.04 336.78 L139.29 400.00 L139.54 400.00 L139.79 400.00 L140.04 400.00 L140.29 356.38 L140.54 400.00 L140.79 400.00 L141.04 400.00 L141.29 400.00 L141.54 400.00 L141.79 400.00 L142.04 345.45 L142.29 343.30 L142.54 400.00 L142.79 400.00 L143.04 400.00 L143.29 400.00 L143.54 331.49 L143.79 347.88 L144.04 400.00 L144.29 400.00 L144.54 349.92 L144.79 327.79 L145.04 346.83 L145.29 353.18 L145.54 344.29 L145.79 342.26 L146.04 328.31 L146.29 353.05 L146.54 342.13 L146.79 345.32 L147.04 348.10 L147.29 400.00 L147.54 333.08 L147.79 349.74 L148.04 400.00 L148.29 400.00 L148.54 400.00 L148.79 342.73 L149.04 334.20 L149.29 334.30 L149.54 332.03 L149.79 337.11 L150.04 346.96 L150.29 337.52 L150.54 340.30 L150.79 352.54 L151.04 337.16 L151.30 332.46 L151.55 345.81 L151.80 400.00 L152.05 336.29 L152.30 329.00 L152.55 352.31 L152.80 400.00 L153.05 356.93 L153.30 341.02 L153.55 400.00 L153.80 353.72 L154.05 336.55 L154.30 400.00 L154.55 333.28 L154.80 340.49 L155.05 400.00 L155.30 400.00 L155.55 400.00 L155.80 400.00 L156.05 332.93 L156.30 365.51 L156.55 331.77 L156.80 342.81 L157.05 337.64 L157.30 400.00 L157.55 400.00 L157.80 400.00 L158.05 400.00 L158.30 400.00 L158.55 400.00 L158.80 400.00 L159.05 400.00 L159.30 400.00 L159.55 400.00 L159.80 343.80 L160.05 370.77 L160.30 335.30 L160.55 330.70 L160.80 357.33 L161.05 400.00 L161.30 400.00 L161.55 400.00 L161.80 338.18 L162.05 342.81 L162.30 345.02 L162.55 400.00 L162.80 360.89 L163.05 400.00 L163.30 400.00 L163.55 400.00 L163.80 400.00 L164.05 400.00 L164.30 400.00 L164.55 400.00 L164.80 347.21 L165.05 340.21 L165.31 323.67 L165.56 332.66 L165.81 400.00 L166.06 341.36 L166.31 347.99 L166.56 400.00 L166.81 341.08 L167.06 400.00 L167.31 400.00 L167.56 400.00 L167.81 379.29 L168.06 335.62 L168.31 400.00 L168.56 400.00 L168.81 337.63 L169.06 400.00 L169.31 350.25 L169.56 332.45 L169.81 346.14 L170.06 370.00 L170.31 350.71 L170.56 342.09 L170.81 400.00 L171.06 343.87 L171.31 334.30 L171.56 326.96 L171.81 365.21 L172.06 400.00 L172.31 347.31 L172.56 400.00 L172.81 352.77 L173.06 345.37 L173.31 337.01 L173.56 400.00 L173.81 400.00 L174.06 400.00 L174.31 400.00 L174.56 336.00 L174.81 400.00 L175.06 400.00 L175.31 400.00 L175.56 349.94 L175.81 364.97 L176.06 400.00 L176.31 346.54 L176.56 343.09 L176.81 342.04 L177.06 369.97 L177.31 331.26 L177.56 339.88 L177.81 400.00 L178.06 400.00 L178.31 400.00 L178.56 341.01 L178.81 353.37 L179.06 335.66 L179.32 335.43 L179.57 331.15 L179.82 336.03 L180.07 400.00 L180.32 400.00 L180.57 365.46 L180.82 338.68 L181.07 345.24 L181.32 345.60 L181.57 400.00 L181.82 400.00 L182.07 400.00 L182.32 335.68 L182.57 348.40 L182.82 400.00 L183.07 400.00 L183.32 400.00 L183.57 332.55 L183.82 342.42 L184.07 400.00 L184.32 331.79 L184.57 328.97 L184.82 332.30 L185.07 334.09 L185.32 332.69 L185.57 337.16 L185.82 341.11 L186.07 400.00 L186.32 333.70 L186.57 336.34 L186.82 332.01 L187.07 400.00 L187.32 346.36 L187.57 336.70 L187.82 365.40 L188.07 343.99 L188.32 337.43 L188.57 342.68 L188.82 400.00 L189.07 369.65 L189.32 334.35 L189.57 332.20 L189.82 346.50 L190.07 355.77 L190.32 345.74 L190.57 339.73 L190.82 400.00 L191.07 400.00 L191.32 400.00 L191.57 400.00 L191.82 400.00 L192.07 362.53 L192.32 352.50 L192.57 400.00 L192.82 359.35 L193.07 400.00 L193.33 400.00 L193.58 400.00 L193.83 400.00 L194.08 353.43 L194.33 400.00 L194.58 400.00 L194.83 400.00 L195.08 349.22 L195.33 362.11 L195.58 353.21 L195.83 339.10 L196.08 400.00 L196.33 400.00 L196.58 400.00 L196.83 334.46 L197.08 331.85 L197.33 332.41 L197.58 351.86 L197.83 362.60 L198.08 341.23 L198.33 364.67 L198.58 338.50 L198.83 340.66 L199.08 400.00 L199.33 400.00 L199.58 350.37 L199.83 327.18 L200.08 324.17 L200.33 344.24 L200.58 400.00 L200.83 400.00 L201.08 400.00 L201.33 400.00 L201.58 400.00 L201.83 357.52 L202.08 400.00 L202.33 400.00 L202.58 400.00 L202.83 400.00 L203.08 339.96 L203.33 338.50 L203.58 400.00 L203.83 400.00 L204.08 352.65 L204.33 400.00 L204.58 400.00 L204.83 400.00 L205.08 400.00 L205.33 363.81 L205.58 338.74 L205.83 337.03 L206.08 327.91 L206.33 329.21 L206.58 334.34 L206.83 331.98 L207.08 330.67 L207.34 340.93 L207.59 400.00 L207.84 343.58 L208.09 341.75 L208.34 331.38 L208.59 342.69 L208.84 342.44 L209.09 338.91 L209.34 330.38 L209.59 344.54 L209.84 400.00 L210.09 357.14 L210.34 400.00 L210.59 362.44 L210.84 358.70 L211.09 340.77 L211.34 329.84 L211.59 360.17 L211.84 400.00 L212.09 371.72 L212.34 349.56 L212.59 400.00 L212.84 400.00 L213.09 386.16 L213.34 344.77 L213.59 373.44 L213.84 400.00 L214.09 400.00 L214.34 342.27 L214.59 331.51 L214.84 341.00 L215.09 348.00 L215.34 351.84 L215.59 400.00 L215.84 400.00 L216.09 400.00 L216.34 353.40 L216.59 400.00 L216.84 400.00 L217.09 334.89 L217.34 329.75 L217.59 351.56 L217.84 347.28 L218.09 344.07 L218.34 345.41 L218.59 400.00 L218.84 335.96 L219.09 352.26 L219.34 335.58 L219.59 350.47 L219.84 400.00 L220.09 369.89 L220.34 342.45 L220.59 400.00 L220.84 400.00 L221.09 400.00 L221.35 400.00 L221.60 337.27 L221.85 338.72 L222.10 347.15 L222.35 338.39 L222.60 400.00 L222.85 357.53 L223.10 329.53 L223.35 339.43 L223.60 400.00 L223.85 400.00 L224.10 400.00 L224.35 341.99 L224.60 400.00 L224.85 400.00 L225.10 349.37 L225.35 400.00 L225.60 354.26 L225.85 337.92 L226.10 340.57 L226.35 348.38 L226.60 400.00 L226.85 351.54 L227.10 364.10 L227.35 330.18 L227.60 325.45 L227.85 400.00 L228.10 400.00 L228.35 400.00 L228.60 344.61 L228.85 333.40 L229.10 335.87 L229.35 400.00 L229.60 400.00 L229.85 340.04 L230.10 400.00 L230.35 340.46 L230.60 352.62 L230.85 338.76 L231.10 336.40 L231.35 335.74 L231.60 340.43 L231.85 400.00 L232.10 361.98 L232.35 355.51 L232.60 342.88 L232.85 334.92 L233.10 400.00 L233.35 400.00 L233.60 400.00 L233.85 400.00 L234.10 345.77 L234.35 400.00 L234.60 337.10 L234.85 344.88 L235.10 400.00 L235.36 400.00 L235.61 360.57 L235.86 349.99 L236.11 400.00 L236.36 335.64 L236.61 329.00 L236.86 338.85 L237.11 335.41 L237.36 324.83 L237.61 331.78 L237.86 400.00 L238.11 400.00 L238.36 400.00 L238.61 400.00 L238.86 400.00 L239.11 366.63 L239.36 400.00 L239.61 370.77 L239.86 358.00 L240.11 340.58 L240.36 400.00 L240.61 400.00 L240.86 341.81 L241.11 332.97 L241.36 348.16 L241.61 333.83 L241.86 345.72 L242.11 388.48 L242.36 335.37 L242.61 400.00 L242.86 341.63 L243.11 400.00 L243.36 365.53 L243.61 400.00 L243.86 400.00 L244.11 338.69 L244.36 346.11 L244.61 370.14 L244.86 400.00 L245.11 369.73 L245.36 400.00 L245.61 400.00 L245.86 400.00 L246.11 400.00 L246.36 400.00 L246.61 400.00 L246.86 400.00 L247.11 355.70 L247.36 330.00 L247.61 330.91 L247.86 332.81 L248.11 356.25 L248.36 400.00 L248.61 400.00 L248.86 400.00 L249.11 400.00 L249.37 400.00 L249.62 337.23 L249.87 328.87 L250.12 335.71 L250.37 400.00 L250.62 359.87 L250.87 400.00 L251.12 343.16 L251.37 349.89 L251.62 332.82 L251.87 324.04 L252.12 328.27 L252.37 325.85 L252.62 341.75 L252.87 361.66 L253.12 331.28 L253.37 329.67 L253.62 400.00 L253.87 400.00 L254.12 400.00 L254.37 400.00 L254.62 339.89 L254.87 369.34 L255.12 400.00 L255.37 400.00 L255.62 353.32 L255.87 337.06 L256.12 339.25 L256.37 359.33 L256.62 400.00 L256.87 333.21 L257.12 349.01 L257.37 365.19 L257.62 355.95 L257.87 400.00 L258.12 400.00 L258.37 379.33 L258.62 341.92 L258.87 332.25 L259.12 348.82 L259.37 400.00 L259.62 400.00 L259.87 356.51 L260.12 400.00 L260.37 400.00 L260.62 400.00 L260.87 353.39 L261.12 346.03 L261.37 400.00 L261.62 400.00 L261.87 342.88 L262.12 400.00 L262.37 400.00 L262.62 329.46 L262.87 347.12 L263.12 390.42 L263.38 400.00 L263.63 340.83 L263.88 400.00 L264.13 372.47 L264.38 379.96 L264.63 400.00 L264.88 351.35 L265.13 400.00 L265.38 400.00 L265.63 400.00 L265.88 400.00 L266.13 343.34 L266.38 337.88 L266.63 400.00 L266.88 400.00 L267.13 400.00 L267.38 400.00 L267.63 342.11 L267.88 360.12 L268.13 349.42 L268.38 400.00 L268.63 400.00 L268.88 347.67 L269.13 400.00 L269.38 358.05 L269.63 335.19 L269.88 400.00 L270.13 400.00 L270.38 400.00 L270.63 400.00 L270.88 400.00 L271.13 400.00 L271.38 400.00 L271.63 347.71 L271.88 331.22 L272.13 339.43 L272.38 341.19 L272.63 362.65 L272.88 400.00 L273.13 400.00 L273.38 400.00 L273.63 364.98 L273.88 330.74 L274.13 340.66 L274.38 367.57 L274.63 333.40 L274.88 400.00 L275.13 400.00 L275.38 400.00 L275.63 400.00 L275.88 366.86 L276.13 329.92 L276.38 364.27 L276.63 400.00 L276.88 400.00 L277.13 400.00 L277.39 400.00 L277.64 400.00 L277.89 339.90 L278.14 342.50 L278.39 348.71 L278.64 400.00 L278.89 400.00 L279.14 336.08 L279.39 337.16 L279.64 400.00 L279.89 400.00 L280.14 353.67 L280.39 343.19 L280.64 353.17 L280.89 400.00 L281.14 358.49 L281.39 354.66 L281.64 400.00 L281.89 400.00 L282.14 400.00 L282.39 400.00 L282.64 400.00 L282.89 365.28 L283.14 339.50 L283.39 348.83 L283.64 400.00 L283.89 351.42 L284.14 337.39 L284.39 400.00 L284.64 338.38 L284.89 337.38 L285.14 340.00 L285.39 333.95 L285.64 400.00 L285.89 344.48 L286.14 400.00 L286.39 400.00 L286.64 400.00 L286.89 377.21 L287.14 400.00 L287.39 400.00 L287.64 400.00 L287.89 334.90 L288.14 328.21 L288.39 336.33 L288.64 330.07 L288.89 332.54 L289.14 327.26 L289.39 351.80 L289.64 400.00 L289.89 336.72 L290.14 370.58 L290.39 400.00 L290.64 400.00 L290.89 400.00 L291.14 400.00 L291.40 400.00 L291.65 333.68 L291.90 343.04 L292.15 400.00 L292.40 400.00 L292.65 400.00 L292.90 400.00 L293.15 400.00 L293.40 400.00 L293.65 400.00 L293.90 400.00 L294.15 341.21 L294.40 329.67 L294.65 330.01 L294.90 342.81 L295.15 341.72 L295.40 400.00 L295.65 368.31 L295.90 400.00 L296.15 354.89 L296.40 400.00 L296.65 400.00 L296.90 400.00 L297.15 354.40 L297.40 400.00 L297.65 400.00 L297.90 362.70 L298.15 362.52 L298.40 400.00 L298.70 400.00 L299.40 341.81 L299.65 336.51 L299.90 328.87 L300.15 324.47 L300.40 325.78 L300.65 328.58 L300.90 336.15 L301.16 329.29 L301.41 323.69 L301.66 319.29 L301.91 318.71 L302.16 320.37 L302.41 320.24 L302.66 320.75 L302.91 321.10 L303.16 319.63 L303.41 318.67 L303.66 316.91 L303.91 315.77 L304.16 315.37 L304.41 314.16 L304.67 314.54 L304.92 312.89 L305.17 312.14 L305.42 312.74 L305.67 310.75 L305.92 309.47 L306.17 308.93 L306.42 309.67 L306.67 309.52 L306.92 309.87 L307.17 311.17 L307.42 310.68 L307.67 311.09 L307.92 310.03 L308.18 309.43 L308.43 310.39 L308.68 311.68 L308.93 309.89 L309.18 309.86 L309.43 310.34 L309.68 311.82 L309.93 311.65 L310.18 310.46 L310.43 312.20 L310.68 313.69 L310.93 313.81 L311.18 313.91 L311.43 316.71 L311.69 317.31 L311.94 316.69 L312.19 314.02 L312.44 315.27 L312.69 317.76 L312.94 318.97 L313.15 320.41 L313.75 400.00 L314.35 320.41 L314.44 322.93 L314.69 321.35 L314.94 319.86 L315.20 322.38 L315.45 326.57 L315.70 325.53 L315.95 326.32 L316.20 330.63 L316.45 329.22 L316.70 326.18 L316.95 324.97 L317.20 321.57 L317.46 323.11 L317.71 325.48 L317.96 325.48 L318.21 326.31 L318.46 324.20 L318.72 321.07 L318.97 321.97 L319.22 324.37 L319.47 322.03 L319.72 318.89 L319.98 318.66 L320.23 316.82 L320.48 314.67 L320.73 313.85 L320.98 312.57 L321.24 310.75 L321.49 308.79 L321.74 307.49 L321.99 305.90 L322.24 303.98 L322.50 302.31 L322.75 300.92 L323.00 299.45 L323.25 298.16 L323.50 297.10 L323.76 296.18 L324.01 295.40 L324.26 294.71 L324.51 294.07 L324.76 293.50 L325.02 293.02 L325.27 292.61 L325.52 292.26 L325.77 292.02 L326.02 291.86 L326.28 291.74 L326.53 291.70 L326.78 291.76 L327.03 291.89 L327.28 292.06 L327.54 292.32 L327.79 292.69 L328.04 293.12 L328.29 293.70 L328.54 294.41 L328.80 295.18 L329.05 295.96 L329.30 296.79 L329.55 297.66 L329.80 298.57 L330.06 299.53 L330.31 300.52 L330.56 301.55 L330.81 302.57 L331.06 303.59 L331.32 304.62 L331.57 305.68 L331.82 306.79 L332.07 307.97 L332.32 309.23 L332.58 310.59 L332.83 312.07 L333.08 313.68 L333.33 315.47 L333.58 317.56 L333.84 319.96 L334.09 322.64 L334.34 325.57 L334.59 328.71 L334.84 332.06 L335.10 335.57 L335.35 339.23 L335.60 343.00 L335.85 340.28 L336.10 337.63 L336.35 335.05 L336.60 332.54 L336.86 330.11 L337.11 327.75 L337.36 325.47 L337.61 323.26 L337.86 321.13 L338.11 319.12 L338.36 317.30 L338.61 315.57 L338.87 313.87 L339.12 312.12 L339.37 310.23 L339.62 308.13 L339.87 305.64 L340.12 302.91 L340.37 300.27 L340.62 297.82 L340.88 295.34 L341.13 292.87 L341.38 290.45 L341.63 288.11 L341.88 285.89 L342.13 283.83 L342.38 281.95 L342.63 280.29 L342.88 278.81 L343.14 277.45 L343.39 276.19 L343.64 275.01 L343.89 273.90 L344.14 272.85 L344.39 271.84 L344.64 270.91 L344.89 270.05 L345.15 269.22 L345.40 268.40 L345.65 267.56 L345.90 266.63 L346.15 265.59 L346.40 264.56 L346.65 263.70 L346.90 263.16 L347.15 262.75 L347.41 262.46 L347.66 262.27 L347.91 262.11 L348.16 262.02 L348.41 262.01 L348.66 262.10 L348.91 262.25 L349.16 262.43 L349.42 262.74 L349.67 263.13 L349.92 263.56 L350.17 264.10 L350.42 264.71 L350.67 265.33 L350.92 265.93 L351.17 266.58 L351.43 267.35 L351.68 268.33 L351.93 269.70 L352.18 271.47 L352.43 273.57 L352.68 275.92 L352.93 278.48 L353.18 281.16 L353.43 283.91 L353.69 286.66 L353.94 289.34 L354.19 291.96 L354.44 294.65 L354.69 297.42 L354.94 300.26 L355.19 303.18 L355.44 306.16 L355.70 309.22 L355.95 312.34 L356.20 315.53 L356.45 318.78 L356.70 322.10 L356.95 321.18 L357.20 319.78 L357.45 317.96 L357.70 315.78 L357.95 313.30 L358.20 310.57 L358.45 307.66 L358.70 304.62 L358.95 301.13 L359.20 296.65 L359.45 291.58 L359.70 286.36 L359.95 281.42 L360.20 276.81 L360.45 272.34 L360.70 268.60 L360.95 265.34 L361.20 262.37 L361.45 259.60 L361.70 256.94 L361.95 254.30 L362.20 251.62 L362.45 248.94 L362.70 246.29 L362.95 243.69 L363.20 241.18 L363.45 238.75 L363.70 236.45 L363.95 234.21 L364.20 231.93 L364.45 229.66 L364.70 227.44 L364.95 225.31 L365.20 223.33 L365.45 221.54 L365.70 219.99 L365.95 218.72 L366.20 217.74 L366.45 216.95 L366.70 216.27 L366.95 215.63 L367.20 215.04 L367.45 214.54 L367.70 214.12 L367.95 213.75 L368.20 213.47 L368.45 213.31 L368.70 213.17 L368.95 213.10 L369.20 213.13 L369.45 213.25 L369.70 213.40 L369.95 213.62 L370.20 213.96 L370.45 214.37 L370.70 214.82 L370.95 215.38 L371.20 216.01 L371.45 216.68 L371.70 217.42 L371.95 218.30 L372.20 219.33 L372.45 220.47 L372.70 221.71 L372.95 223.08 L373.20 224.59 L373.45 226.23 L373.70 228.04 L373.95 230.01 L374.20 232.16 L374.45 234.50 L374.70 237.14 L374.95 240.84 L375.20 245.37 L375.45 250.26 L375.70 255.03 L375.95 259.46 L376.20 264.07 L376.45 268.43 L376.70 272.00 L376.95 274.88 L377.20 277.45 L377.45 279.60 L377.70 281.20 L377.95 280.91 L378.20 280.08 L378.45 278.73 L378.70 276.90 L378.95 274.63 L379.20 271.96 L379.45 265.43 L379.70 255.87 L379.96 247.89 L380.21 240.37 L380.46 235.05 L380.71 231.32 L380.96 228.21 L381.21 225.54 L381.46 223.14 L381.71 220.82 L381.96 218.41 L382.21 215.92 L382.46 213.42 L382.71 210.91 L382.96 208.42 L383.21 205.97 L383.46 203.56 L383.71 201.23 L383.96 198.97 L384.22 196.82 L384.47 194.79 L384.72 192.90 L384.97 191.16 L385.22 189.59 L385.47 188.21 L385.72 187.03 L385.97 186.08 L386.22 185.30 L386.47 184.61 L386.72 183.97 L386.97 183.39 L387.22 182.90 L387.47 182.48 L387.72 182.11 L387.97 181.86 L388.22 181.69 L388.48 181.56 L388.73 181.50 L388.98 181.54 L389.23 181.66 L389.48 181.82 L389.73 182.05 L389.98 182.40 L390.23 182.82 L390.48 183.29 L390.73 183.85 L390.98 184.49 L391.23 185.16 L391.48 185.92 L391.73 186.83 L391.98 187.92 L392.23 189.13 L392.48 190.48 L392.74 191.95 L392.99 193.55 L393.24 195.26 L393.49 197.09 L393.74 199.04 L393.99 201.09 L394.24 203.26 L394.49 205.53 L394.74 207.90 L394.99 210.37 L395.24 212.94 L395.49 215.60 L395.74 218.35 L395.99 221.42 L396.24 225.18 L396.49 229.37 L396.74 233.71 L397.00 237.92 L397.25 242.09 L397.50 246.39 L397.75 250.70 L398.00 254.86 L398.25 258.75 L398.50 262.28 L398.75 265.55 L399.00 268.60 L399.25 268.15 L399.50 266.92 L399.75 265.06 L400.00 262.72 L400.25 260.06 L400.50 256.16 L400.75 249.88 L401.00 242.89 L401.25 236.94 L401.50 231.68 L401.75 226.66 L402.00 222.13 L402.25 218.29 L402.50 214.75 L402.75 211.29 L403.00 207.92 L403.25 204.67 L403.50 201.56 L403.75 198.60 L404.00 195.83 L404.25 193.26 L404.50 190.91 L404.75 188.80 L405.00 186.96 L405.25 185.40 L405.50 184.15 L405.75 183.20 L406.00 182.45 L406.25 181.79 L406.50 181.15 L406.75 180.58 L407.00 180.10 L407.25 179.69 L407.50 179.33 L407.75 179.09 L408.00 178.93 L408.25 178.80 L408.50 178.75 L408.75 178.80 L409.00 178.92 L409.25 179.09 L409.50 179.33 L409.75 179.69 L410.00 180.10 L410.25 180.58 L410.50 181.15 L410.75 181.79 L411.00 182.45 L411.25 183.20 L411.50 184.15 L411.75 185.46 L412.00 187.16 L412.25 189.21 L412.50 191.57 L412.75 194.19 L413.00 197.02 L413.25 200.02 L413.50 203.14 L413.75 206.34 L414.00 209.57 L414.25 212.79 L414.50 215.95 L414.75 219.00 L415.00 222.07 L415.25 225.29 L415.50 228.60 L415.75 231.96 L416.00 235.33 L416.25 238.67 L416.50 242.04 L416.75 245.48 L417.00 248.92 L417.25 252.33 L417.50 255.66 L417.75 258.88 L418.00 261.95 L418.25 264.92 L418.50 267.80 L418.75 270.60 L419.00 269.23 L419.25 267.33 L419.50 264.99 L419.76 262.32 L420.01 259.41 L420.26 255.82 L420.51 251.38 L420.76 246.48 L421.01 241.51 L421.26 236.82 L421.52 232.05 L421.77 227.24 L422.02 222.68 L422.27 218.70 L422.52 215.03 L422.77 211.36 L423.02 207.80 L423.28 204.40 L423.53 201.26 L423.78 198.44 L424.03 196.04 L424.28 194.11 L424.53 192.75 L424.79 191.82 L425.04 191.09 L425.29 190.44 L425.54 189.81 L425.79 189.24 L426.04 188.78 L426.29 188.37 L426.55 188.03 L426.80 187.81 L427.05 187.65 L427.30 187.53 L427.55 187.50 L427.80 187.57 L428.05 187.71 L428.31 187.88 L428.56 188.16 L428.81 188.53 L429.06 188.96 L429.31 189.46 L429.56 190.06 L429.81 190.70 L430.07 191.35 L430.32 192.14 L430.57 193.28 L430.82 195.37 L431.07 198.43 L431.32 202.20 L431.58 206.43 L431.83 210.89 L432.08 215.31 L432.33 219.47 L432.58 223.72 L432.83 228.20 L433.08 232.69 L433.34 236.97 L433.59 240.97 L433.84 244.99 L434.09 248.93 L434.34 252.65 L434.59 256.03 L434.84 258.93 L435.10 261.36 L435.35 263.53 L435.60 265.39 L435.85 266.90 L436.10 266.45 L436.35 265.22 L436.61 263.35 L436.86 260.99 L437.11 257.87 L437.36 251.53 L437.61 243.55 L437.87 236.14 L438.12 228.29 L438.37 221.33 L438.62 217.46 L438.87 214.66 L439.13 212.31 L439.38 210.36 L439.63 208.75 L439.88 207.40 L440.13 206.26 L440.39 205.34 L440.64 204.60 L440.89 203.93 L441.14 203.30 L441.39 202.74 L441.65 202.27 L441.90 201.86 L442.15 201.52 L442.40 201.30 L442.65 201.14 L442.91 201.03 L443.16 201.00 L443.41 201.07 L443.66 201.21 L443.91 201.39 L444.17 201.67 L444.42 202.05 L444.67 202.47 L444.92 202.98 L445.17 203.58 L445.43 204.23 L445.68 204.92 L445.93 205.72 L446.18 206.78 L446.43 208.25 L446.68 210.10 L446.94 212.28 L447.19 214.70 L447.44 217.30 L447.69 220.04 L447.94 223.27 L448.20 227.01 L448.45 231.16 L448.70 235.63 L448.95 240.33 L449.20 245.17 L449.46 250.06 L449.71 254.89 L449.96 259.58 L450.21 264.04 L450.46 268.17 L450.72 271.88 L450.97 275.11 L451.22 277.97 L451.47 280.58 L451.72 283.02 L451.98 285.41 L452.23 287.82 L452.48 290.37 L452.73 293.18 L452.98 296.40 L453.24 299.91 L453.49 303.88 L453.74 308.08 L453.99 313.08 L454.24 318.67 L454.50 324.85 L454.75 334.57 L455.00 339.56 L455.30 400.00 L455.55 400.00 L455.80 353.63 L456.05 348.18 L456.30 336.66 L456.55 400.00 L456.80 400.00 L457.05 400.00 L457.30 364.40 L457.55 400.00 L457.80 400.00 L458.05 400.00 L458.30 400.00 L458.55 341.68 L458.80 341.57 L459.05 334.10 L459.30 337.58 L459.55 400.00 L459.80 400.00 L460.05 400.00 L460.31 338.48 L460.56 339.12 L460.81 400.00 L461.06 400.00 L461.31 400.00 L461.56 400.00 L461.81 400.00 L462.06 349.93 L462.31 329.98 L462.56 379.76 L462.81 400.00 L463.06 356.81 L463.31 400.00 L463.56 400.00 L463.81 359.16 L464.06 346.69 L464.31 400.00 L464.56 338.47 L464.81 365.02 L465.06 350.95 L465.31 337.46 L465.56 336.64 L465.81 335.37 L466.06 347.40 L466.31 359.74 L466.56 362.07 L466.81 400.00 L467.06 341.40 L467.31 400.00 L467.56 400.00 L467.81 332.19 L468.06 361.19 L468.31 400.00 L468.56 333.99 L468.81 349.01 L469.06 341.57 L469.31 400.00 L469.56 400.00 L469.81 400.00 L470.07 400.00 L470.32 400.00 L470.57 400.00 L470.82 335.22 L471.07 328.64 L471.32 400.00 L471.57 344.71 L471.82 400.00 L472.07 400.00 L472.32 400.00 L472.57 400.00 L472.82 400.00 L473.07 400.00 L473.32 400.00 L473.57 400.00 L473.82 338.20 L474.07 347.09 L474.32 347.42 L474.57 336.42 L474.82 342.30 L475.07 363.10 L475.32 400.00 L475.57 359.76 L475.82 337.23 L476.07 338.24 L476.32 342.98 L476.57 343.07 L476.82 400.00 L477.07 366.84 L477.32 400.00 L477.57 339.83 L477.82 348.54 L478.07 351.26 L478.32 345.22 L478.57 363.07 L478.82 366.09 L479.07 338.65 L479.32 357.55 L479.57 400.00 L479.83 400.00 L480.08 400.00 L480.33 338.42 L480.58 354.86 L480.83 346.59 L481.08 327.99 L481.33 328.26 L481.58 342.73 L481.83 341.17 L482.08 334.39 L482.33 332.63 L482.58 352.41 L482.83 350.14 L483.08 337.11 L483.33 343.52 L483.58 340.76 L483.83 347.93 L484.08 400.00 L484.33 400.00 L484.58 400.00 L484.83 400.00 L485.08 340.55 L485.33 400.00 L485.58 338.20 L485.83 337.46 L486.08 357.10 L486.33 370.66 L486.58 400.00 L486.83 400.00 L487.08 400.00 L487.33 366.94 L487.58 343.11 L487.83 343.57 L488.08 400.00 L488.33 349.33 L488.58 400.00 L488.83 400.00 L489.08 352.79 L489.33 366.69 L489.59 383.24 L489.84 362.26 L490.09 400.00 L490.34 400.00 L490.59 400.00 L490.84 341.81 L491.09 346.00 L491.34 332.63 L491.59 379.97 L491.84 400.00 L492.09 400.00 L492.34 335.31 L492.59 353.13 L492.84 400.00 L493.09 400.00 L493.34 336.85 L493.59 335.66 L493.84 340.00 L494.09 340.90 L494.34 333.79 L494.59 341.95 L494.84 400.00 L495.09 348.06 L495.34 352.38 L495.59 360.60 L495.84 344.02 L496.09 400.00 L496.34 400.00 L496.59 339.51 L496.84 336.63 L497.09 365.66 L497.34 400.00 L497.59 400.00 L497.84 400.00 L498.09 385.19 L498.34 400.00 L498.59 400.00 L498.84 400.00 L499.09 400.00 L499.35 337.66 L499.60 333.90 L499.85 342.67 L500.10 400.00 L500.35 400.00 L500.60 341.75 L500.85 336.58 L501.10 400.00 L501.35 355.55 L501.60 400.00 L501.85 400.00 L502.10 380.01 L502.35 400.00 L502.60 400.00 L502.85 368.54 L503.10 342.97 L503.35 363.69 L503.60 339.99 L503.85 371.76 L504.10 334.90 L504.35 345.95 L504.60 349.86 L504.85 343.59 L505.10 341.12 L505.35 329.52 L505.60 328.00 L505.85 339.80 L506.10 400.00 L506.35 400.00 L506.60 400.00 L506.85 400.00 L507.10 400.00 L507.35 383.11 L507.60 361.36 L507.85 359.01 L508.10 400.00 L508.35 400.00 L508.60 339.69 L508.86 340.62 L509.11 370.90 L509.36 340.51 L509.61 400.00 L509.86 400.00 L510.11 400.00 L510.36 350.71 L510.61 348.97 L510.86 337.85 L511.11 340.44 L511.36 352.54 L511.61 348.36 L511.86 338.27 L512.11 361.46 L512.36 400.00 L512.61 354.98 L512.86 339.56 L513.11 334.69 L513.36 331.21 L513.61 343.82 L513.86 339.05 L514.11 400.00 L514.36 347.57 L514.61 343.61 L514.86 332.32 L515.11 340.55 L515.36 390.15 L515.61 345.92 L515.86 348.76 L516.11 400.00 L516.36 400.00 L516.61 400.00 L516.86 328.80 L517.11 339.03 L517.36 343.07 L517.61 400.00 L517.86 400.00 L518.11 400.00 L518.36 363.44 L518.62 346.39 L518.87 400.00 L519.12 343.87 L519.37 335.67 L519.62 400.00 L519.87 347.66 L520.12 400.00 L520.37 353.88 L520.62 341.01 L520.87 333.90 L521.12 400.00 L521.37 352.29 L521.62 342.10 L521.87 400.00 L522.12 400.00 L522.37 400.00 L522.62 400.00 L522.87 343.54 L523.12 334.94 L523.37 326.44 L523.62 329.82 L523.87 334.32 L524.12 358.76 L524.37 400.00 L524.62 400.00 L524.87 400.00 L525.12 340.57 L525.37 400.00 L525.62 400.00 L525.87 400.00 L526.12 339.04 L526.37 336.24 L526.62 361.90 L526.87 350.92 L527.12 400.00 L527.37 400.00 L527.62 374.67 L527.87 400.00 L528.12 400.00 L528.38 351.30 L528.63 400.00 L528.88 400.00 L529.13 400.00 L529.38 400.00 L529.63 400.00 L529.88 355.06 L530.13 400.00 L530.38 389.68 L530.63 336.83 L530.88 400.00 L531.13 371.26 L531.38 347.38 L531.63 400.00 L531.88 357.07 L532.13 400.00 L532.38 346.70 L532.63 367.25 L532.88 400.00 L533.13 338.55 L533.38 356.83 L533.63 400.00 L533.88 400.00 L534.13 400.00 L534.38 400.00 L534.63 349.59 L534.88 342.56 L535.13 400.00 L535.38 400.00 L535.63 338.59 L535.88 346.09 L536.13 341.97 L536.38 333.43 L536.63 342.03 L536.88 346.73 L537.13 347.35 L537.38 331.93 L537.63 337.07 L537.88 400.00 L538.14 361.57 L538.39 400.00 L538.64 340.61 L538.89 341.52 L539.14 389.11 L539.39 400.00 L539.64 400.00 L539.89 353.51 L540.14 370.47 L540.39 400.00 L540.64 348.53 L540.89 400.00 L541.14 400.00 L541.39 400.00 L541.64 400.00 L541.89 332.03 L542.14 352.80 L542.39 400.00 L542.64 367.86 L542.89 400.00 L543.14 400.00 L543.39 400.00 L543.64 400.00 L543.89 400.00 L544.14 400.00 L544.39 400.00 L544.64 353.92 L544.89 400.00 L545.14 400.00 L545.39 400.00 L545.64 400.00 L545.89 400.00 L546.14 361.25 L546.39 400.00 L546.64 400.00 L546.89 400.00 L547.14 400.00 L547.39 400.00 L547.64 400.00 L547.90 358.75 L548.15 351.57 L548.40 337.22 L548.65 400.00 L548.90 400.00 L549.15 378.44 L549.40 400.00 L549.65 355.36 L549.90 400.00 L550.15 400.00 L550.40 400.00 L550.65 400.00 L550.90 336.24 L551.15 337.41 L551.40 338.35 L551.65 400.00 L551.90 400.00 L552.15 400.00 L552.40 373.38 L552.65 364.00 L552.90 344.43 L553.15 335.86 L553.40 400.00 L553.65 370.63 L553.90 400.00 L554.15 349.09 L554.40 400.00 L554.65 400.00 L554.90 352.05 L555.15 335.75 L555.40 364.29 L555.65 400.00 L555.90 400.00 L556.15 400.00 L556.40 400.00 L556.65 400.00 L556.90 400.00 L557.15 353.22 L557.40 400.00 L557.66 343.79 L557.91 336.60 L558.16 400.00 L558.41 336.91 L558.66 331.22 L558.91 390.29 L559.16 378.36 L559.41 400.00 L559.66 400.00 L559.91 400.00 L560.16 400.00 L560.41 400.00 L560.66 400.00 L560.91 400.00 L561.16 400.00 L561.41 400.00 L561.66 400.00 L561.91 400.00 L562.16 400.00 L562.41 400.00 L562.66 400.00 L562.91 400.00 L563.16 400.00 L563.41 400.00 L563.66 400.00 L563.91 400.00 L564.16 400.00 L564.41 400.00 L564.66 400.00 L564.91 354.01 L565.16 400.00 L565.41 348.09 L565.66 344.32 L565.91 400.00 L566.16 339.49 L566.41 331.41 L566.66 365.12 L566.91 354.24 L567.16 400.00 L567.42 400.00 L567.67 400.00 L567.92 400.00 L568.17 344.31 L568.42 340.77 L568.67 347.77 L568.92 334.02 L569.17 335.08 L569.42 343.75 L569.67 400.00 L569.92 332.16 L570.17 338.20 L570.42 400.00 L570.67 400.00 L570.92 400.00 L571.17 339.37 L571.42 336.64 L571.67 364.28 L571.92 352.46 L572.17 349.88 L572.42 400.00 L572.67 357.45 L572.92 400.00 L573.17 362.92 L573.42 400.00 L573.67 400.00 L573.92 400.00 L574.17 400.00 L574.42 363.90 L574.67 367.29 L574.92 341.64 L575.17 400.00 L575.42 400.00 L575.67 400.00 L575.92 400.00 L576.17 361.14 L576.42 337.72 L576.67 339.71 L576.92 336.99 L577.18 342.30 L577.43 354.91 L577.68 341.21 L577.93 364.99 L578.18 380.89 L578.43 400.00 L578.68 400.00 L578.93 400.00 L579.18 343.60 L579.43 329.36 L579.68 326.80 L579.93 334.70 L580.18 349.27 L580.43 341.82 L580.68 353.50 L580.93 400.00 L581.18 400.00 L581.43 400.00 L581.68 400.00 L581.93 339.28 L582.18 400.00 L582.43 400.00 L582.68 350.17 L582.93 400.00 L583.18 400.00 L583.43 400.00 L583.68 351.17 L583.93 346.58 L584.18 353.64 L584.43 400.00 L584.68 400.00 L584.93 352.34 L585.18 400.00 L585.43 400.00 L585.68 400.00 L585.93 400.00 L586.18 365.14 L586.43 348.20 L586.68 400.00 L586.94 349.07 L587.19 400.00 L587.44 353.22 L587.69 344.32 L587.94 400.00 L588.19 400.00 L588.44 348.93 L588.69 400.00 L588.94 400.00 L589.19 364.69 L589.44 400.00 L589.69 400.00 L589.94 339.63 L590.19 371.38 L590.44 400.00 L590.69 400.00 L590.94 332.49 L591.19 331.43 L591.44 353.32 L591.69 400.00 L591.94 400.00 L592.19 338.89 L592.44 345.80 L592.69 400.00 L592.94 400.00 L593.19 345.43 L593.44 360.29 L593.69 349.04 L593.94 339.98 L594.19 332.97 L594.44 344.32 L594.69 384.04 L594.94 400.00 L595.19 341.03 L595.44 338.22 L595.69 400.00 L595.94 400.00 L596.19 400.00 L596.44 347.90 L596.70 330.30 L596.95 336.67 L597.20 338.11 L597.45 336.38 L597.70 337.20 L597.95 400.00 L598.20 400.00 L598.45 400.00 L598.70 400.00 L598.95 400.00 L599.20 400.00 L599.45 400.00 L599.70 400.00 L599.95 400.00 L600.20 333.23 L600.45 344.74 L600.70 327.66 L600.95 332.02 L601.20 400.00 L601.45 342.21 L601.70 348.02 L601.95 400.00 L602.20 354.93 L602.45 357.66 L602.70 358.77 L602.95 400.00 L603.20 400.00 L603.45 350.76 L603.70 400.00 L603.95 400.00 L604.20 400.00 L604.45 400.00 L604.70 400.00 L604.95 400.00 L605.20 341.29 L605.45 346.37 L605.70 343.82 L605.95 344.32 L606.21 400.00 L606.46 333.88 L606.71 400.00 L606.96 352.65 L607.21 342.95 L607.46 336.23 L607.71 369.88 L607.96 400.00 L608.21 400.00 L608.46 400.00 L608.71 400.00 L608.96 400.00 L609.21 336.42 L609.46 368.25 L609.71 400.00 L609.96 400.00 L610.21 400.00 L610.46 400.00 L610.71 359.22 L610.96 400.00 L611.21 400.00 L611.46 400.00 L611.71 400.00 L611.96 400.00 L612.21 400.00 L612.46 400.00 L612.71 358.63 L612.96 339.97 L613.21 339.11 L613.46 400.00 L613.71 400.00 L613.96 400.00 L614.21 344.17 L614.46 334.25 L614.71 339.25 L614.96 335.25 L615.21 400.00 L615.46 400.00 L615.71 338.08 L615.97 400.00 L616.22 349.17 L616.47 346.64 L616.72 344.83 L616.97 335.22 L617.22 400.00 L617.47 400.00 L617.72 400.00 L617.97 400.00 L618.22 400.00 L618.47 400.00 L618.72 400.00 L618.97 364.04 L619.22 400.00 L619.47 400.00 L619.72 400.00 L619.97 358.91 L620.22 400.00 L620.47 400.00 L620.72 333.26 L620.97 333.83 L621.22 335.46 L621.47 340.66 L621.72 357.34 L621.97 400.00 L622.22 350.66 L622.47 400.00 L622.72 400.00 L622.97 400.00 L623.22 360.25 L623.47 345.51 L623.72 400.00 L623.97 332.08 L624.22 400.00 L624.47 400.00 L624.72 345.80 L624.97 400.00 L625.22 400.00 L625.47 400.00 L625.73 400.00 L625.98 400.00 L626.23 400.00 L626.48 400.00 L626.73 346.20 L626.98 338.82 L627.23 331.92 L627.48 331.62 L627.73 336.45 L627.98 348.54 L628.23 343.09 L628.48 400.00 L628.73 368.05 L628.98 334.75 L629.23 342.92 L629.48 400.00 L629.73 400.00 L629.98 341.40 L630.23 339.17 L630.48 342.99 L630.73 400.00 L630.98 400.00 L631.23 400.00 L631.48 400.00 L631.73 400.00 L631.98 361.86 L632.23 352.15 L632.48 360.91 L632.73 343.70 L632.98 340.64 L633.23 363.66 L633.48 400.00 L633.73 339.57 L633.98 344.94 L634.23 347.12 L634.48 396.65 L634.73 400.00 L634.98 366.51 L635.23 400.00 L635.49 400.00 L635.74 341.17 L635.99 361.14 L636.24 348.67 L636.49 336.50 L636.74 336.26 L636.99 400.00 L637.24 400.00 L637.49 352.32 L637.74 400.00 L637.99 400.00 L638.24 400.00 L638.49 348.70 L638.74 341.18 L638.99 351.92 L639.24 400.00 L639.49 360.82 L639.74 389.96 L639.99 400.00 L640.24 355.31 L640.49 357.14 L640.74 400.00 L640.99 340.24 L641.24 337.35 L641.49 352.09 L641.74 400.00 L641.99 400.00 L642.24 400.00 L642.49 400.00 L642.74 372.62 L642.99 400.00 L643.24 340.65 L643.49 346.34 L643.74 374.07 L643.99 336.07 L644.24 341.40 L644.49 359.04 L644.74 400.00 L644.99 346.54 L645.25 333.20 L645.50 338.65 L645.75 400.00 L646.00 335.63 L646.25 331.08 L646.50 338.60 L646.75 400.00 L647.00 400.00 L647.25 400.00 L647.50 400.00 L647.75 354.63 L648.00 349.87 L648.25 400.00 L648.50 400.00 L648.75 400.00 L649.00 400.00 L649.25 344.92 L649.50 400.00 L649.75 351.86 L650.00 345.06" stroke="#ff7f0e"/>
<path d="M88.00 400.00 L88.25 360.59 L88.50 400.00 L88.75 400.00 L89.00 350.08 L89.25 355.66 L89.50 400.00 L89.75 400.00 L90.00 400.00 L90.25 400.00 L90.50 400.00 L90.75 400.00 L91.00 400.00 L91.25 400.00 L91.50 400.00 L91.75 400.00 L92.00 400.00 L92.25 400.00 L92.50 400.00 L92.75 400.00 L93.00 340.64 L93.25 353.52 L93.50 400.00 L93.75 400.00 L94.00 400.00 L94.25 400.00 L94.50 400.00 L94.75 400.00 L95.00 400.00 L95.25 400.00 L95.50 352.39 L95.75 400.00 L96.00 400.00 L96.25 400.00 L96.50 400.00 L96.75 400.00 L97.00 335.78 L97.25 330.18 L97.50 325.96 L97.75 330.97 L98.00 334.80 L98.25 340.66 L98.50 400.00 L98.75 357.99 L99.00 338.32 L99.25 358.80 L99.50 373.80 L99.75 356.22 L100.00 350.32 L100.25 400.00 L100.50 400.00 L100.75 361.64 L101.00 400.00 L101.25 400.00 L101.50 400.00 L101.75 400.00 L102.00 400.00 L102.25 400.00 L102.50 359.08 L102.75 400.00 L103.00 400.00 L103.25 400.00 L103.50 400.00 L103.75 400.00 L104.00 400.00 L104.25 400.00 L104.50 400.00 L104.75 400.00 L105.00 400.00 L105.25 400.00 L105.50 355.68 L105.75 339.39 L106.00 400.00 L106.25 400.00 L106.50 400.00 L106.75 400.00 L107.00 400.00 L107.25 400.00 L107.50 400.00 L107.75 400.00 L108.00 400.00 L108.25 400.00 L108.50 400.00 L108.75 400.00 L109.00 343.90 L109.25 330.62 L109.50 345.33 L109.75 400.00 L110.00 337.56 L110.25 345.54 L110.50 400.00 L110.75 348.50 L111.00 370.74 L111.25 400.00 L111.50 400.00 L111.75 400.00 L112.00 378.23 L112.25 340.89 L112.50 353.91 L112.75 339.40 L113.00 334.46 L113.25 400.00 L113.50 400.00 L113.75 400.00 L114.00 400.00 L114.25 400.00 L114.50 400.00 L114.75 362.08 L115.00 400.00 L115.25 364.18 L115.50 341.78 L115.75 340.54 L116.00 337.57 L116.25 339.09 L116.50 335.11 L116.75 329.35 L117.00 335.19 L117.25 344.61 L117.50 352.06 L117.75 400.00 L118.00 400.00 L118.25 340.99 L118.50 334.16 L118.75 332.56 L119.00 367.37 L119.25 400.00 L119.50 332.75 L119.75 335.25 L120.00 397.43 L120.25 340.96 L120.50 400.00 L120.75 400.00 L121.00 400.00 L121.25 400.00 L121.50 339.62 L121.75 400.00 L122.00 400.00 L122.25 400.00 L122.50 400.00 L122.75 400.00 L123.00 355.91 L123.25 336.02 L123.50 345.46 L123.75 400.00 L124.00 400.00 L124.25 400.00 L124.50 400.00 L124.75 400.00 L125.00 400.00 L125.25 334.10 L125.50 336.74 L125.75 400.00 L126.00 339.85 L126.25 344.86 L126.50 400.00 L126.75 400.00 L127.00 400.00 L127.25 351.38 L127.50 382.19 L127.75 400.00 L128.00 345.29 L128.25 327.31 L128.50 327.39 L128.75 368.28 L129.00 400.00 L129.25 331.96 L129.50 400.00 L129.75 400.00 L130.00 400.00 L130.25 341.22 L130.50 336.08 L130.75 349.43 L131.00 400.00 L131.25 354.93 L131.50 337.69 L131.75 331.49 L132.00 361.81 L132.25 400.00 L132.50 400.00 L132.75 344.67 L133.00 400.00 L133.25 400.00 L133.50 400.00 L133.75 363.60 L134.00 343.38 L134.25 400.00 L134.50 346.86 L134.75 343.81 L135.00 400.00 L135.25 354.56 L135.50 328.78 L135.75 326.80 L136.00 332.64 L136.25 337.76 L136.50 337.32 L136.75 356.78 L137.00 400.00 L137.25 400.00 L137.50 400.00 L137.75 339.69 L138.00 327.30 L138.25 334.81 L138.50 332.45 L138.75 332.55 L139.00 342.77 L139.25 358.51 L139.50 400.00 L139.75 400.00 L140.00 400.00 L140.25 400.00 L140.50 400.00 L140.75 352.74 L141.00 400.00 L141.25 400.00 L141.50 400.00 L141.75 400.00 L142.00 345.26 L142.25 346.62 L142.50 400.00 L142.75 400.00 L143.00 359.59 L143.25 335.34 L143.50 338.28 L143.75 344.29 L144.00 400.00 L144.25 400.00 L144.50 400.00 L144.75 354.04 L145.00 400.00 L145.25 400.00 L145.50 400.00 L145.75 400.00 L146.00 400.00 L146.25 400.00 L146.50 400.00 L146.75 356.15 L147.00 342.57 L147.25 334.76 L147.50 331.79 L147.75 330.75 L148.00 337.30 L148.25 387.09 L148.50 387.21 L148.75 353.56 L149.00 364.53 L149.25 341.63 L149.50 340.19 L149.75 400.00 L150.00 400.00 L150.25 349.79 L150.50 344.46 L150.75 357.85 L151.00 400.00 L151.25 334.81 L151.50 336.20 L151.75 371.80 L152.00 400.00 L152.25 400.00 L152.50 400.00 L152.75 400.00 L153.00 400.00 L153.25 343.27 L153.50 349.53 L153.75 375.26 L154.00 400.00 L154.25 400.00 L154.50 400.00 L154.75 400.00 L155.00 400.00 L155.25 400.00 L155.50 400.00 L155.75 366.03 L156.00 400.00 L156.25 400.00 L156.50 400.00 L156.75 374.82 L157.00 349.04 L157.25 400.00 L157.50 400.00 L157.75 389.75 L158.00 400.00 L158.25 343.88 L158.50 369.52 L158.75 400.00 L159.00 400.00 L159.25 348.04 L159.50 339.99 L159.75 346.04 L160.00 332.93 L160.25 329.07 L160.50 362.63 L160.75 400.00 L161.00 400.00 L161.25 400.00 L161.50 400.00 L161.75 400.00 L162.00 400.00 L162.25 400.00 L162.50 400.00 L162.75 400.00 L163.00 332.23 L163.25 330.80 L163.50 337.26 L163.75 335.33 L164.00 329.95 L164.25 336.97 L164.50 400.00 L164.75 400.00 L165.00 400.00 L165.25 400.00 L165.50 400.00 L165.75 400.00 L166.00 400.00 L166.25 400.00 L166.50 361.84 L166.75 400.00 L167.00 373.25 L167.25 332.49 L167.50 336.47 L167.75 332.71 L168.00 329.97 L168.25 330.64 L168.50 344.01 L168.75 400.00 L169.00 400.00 L169.25 400.00 L169.50 400.00 L169.75 400.00 L170.00 400.00 L170.25 400.00 L170.50 400.00 L170.75 400.00 L171.00 400.00 L171.25 400.00 L171.50 400.00 L171.75 400.00 L172.00 400.00 L172.25 400.00 L172.50 400.00 L172.75 350.91 L173.00 342.99 L173.25 355.86 L173.50 400.00 L173.75 400.00 L174.00 372.68 L174.25 400.00 L174.50 400.00 L174.75 400.00 L175.00 400.00 L175.25 400.00 L175.50 340.29 L175.75 332.23 L176.00 335.80 L176.25 348.39 L176.50 400.00 L176.75 400.00 L177.00 375.59 L177.25 400.00 L177.50 352.90 L177.75 348.33 L178.00 344.29 L178.25 342.99 L178.50 400.00 L178.75 400.00 L179.00 400.00 L179.25 400.00 L179.50 336.02 L179.75 342.61 L180.00 335.35 L180.25 333.82 L180.50 335.71 L180.75 344.29 L181.00 400.00 L181.25 346.39 L181.50 335.51 L181.75 400.00 L182.00 400.00 L182.25 400.00 L182.50 400.00 L182.75 400.00 L183.00 340.38 L183.25 400.00 L183.50 400.00 L183.75 334.35 L184.00 331.88 L184.25 337.98 L184.50 346.22 L184.75 400.00 L185.00 400.00 L185.25 339.75 L185.50 334.04 L185.75 335.71 L186.00 351.08 L186.25 400.00 L186.50 367.41 L186.75 334.03 L187.00 332.97 L187.25 367.18 L187.50 400.00 L187.75 336.13 L188.00 335.10 L188.25 349.54 L188.50 400.00 L188.75 400.00 L189.00 400.00 L189.25 400.00 L189.50 400.00 L189.75 344.31 L190.00 341.16 L190.25 368.88 L190.50 400.00 L190.75 400.00 L191.00 345.55 L191.25 400.00 L191.50 400.00 L191.75 348.53 L192.00 400.00 L192.25 350.36 L192.50 348.85 L192.75 336.30 L193.00 338.02 L193.25 336.44 L193.50 328.30 L193.75 330.12 L194.00 337.72 L194.25 400.00 L194.50 400.00 L194.75 341.32 L195.00 337.42 L195.25 346.02 L195.50 353.47 L195.75 400.00 L196.00 400.00 L196.25 400.00 L196.50 400.00 L196.75 400.00 L197.00 400.00 L197.25 349.08 L197.50 335.85 L197.75 400.00 L198.00 400.00 L198.25 345.27 L198.50 344.10 L198.75 333.10 L199.00 340.26 L199.25 350.97 L199.50 338.44 L199.75 330.08 L200.00 334.02 L200.25 341.51 L200.50 400.00 L200.75 400.00 L201.00 400.00 L201.25 335.50 L201.50 333.77 L201.75 338.48 L202.00 345.53 L202.25 400.00 L202.50 400.00 L202.75 400.00 L203.00 400.00 L203.25 400.00 L203.50 400.00 L203.75 359.03 L204.00 366.09 L204.25 344.23 L204.50 341.46 L204.75 339.24 L205.00 342.42 L205.25 400.00 L205.50 400.00 L205.75 353.14 L206.00 331.17 L206.25 327.06 L206.50 331.64 L206.75 342.06 L207.00 400.00 L207.25 345.43 L207.50 349.04 L207.75 400.00 L208.00 400.00 L208.25 400.00 L208.50 400.00 L208.75 400.00 L209.00 400.00 L209.25 368.41 L209.50 381.06 L209.75 353.26 L210.00 363.96 L210.25 400.00 L210.50 400.00 L210.75 400.00 L211.00 400.00 L211.25 352.45 L211.50 341.46 L211.75 400.00 L212.00 400.00 L212.25 400.00 L212.50 338.34 L212.75 349.90 L213.00 400.00 L213.25 400.00 L213.50 400.00 L213.75 400.00 L214.00 400.00 L214.25 400.00 L214.50 400.00 L214.75 400.00 L215.00 400.00 L215.25 400.00 L215.50 344.42 L215.75 332.39 L216.00 329.29 L216.25 330.05 L216.50 336.46 L216.75 400.00 L217.00 400.00 L217.25 340.06 L217.50 344.80 L217.75 400.00 L218.00 400.00 L218.25 400.00 L218.50 380.95 L218.75 350.24 L219.00 400.00 L219.25 400.00 L219.50 400.00 L219.75 367.18 L220.00 332.41 L220.25 330.58 L220.50 345.85 L220.75 400.00 L221.00 400.00 L221.25 335.29 L221.50 331.58 L221.75 358.19 L222.00 368.75 L222.25 400.00 L222.50 400.00 L222.75 400.00 L223.00 400.00 L223.25 400.00 L223.50 400.00 L223.75 400.00 L224.00 400.00 L224.25 367.70 L224.50 340.81 L224.75 363.90 L225.00 400.00 L225.25 400.00 L225.50 400.00 L225.75 400.00 L226.00 400.00 L226.25 400.00 L226.50 344.67 L226.75 339.94 L227.00 400.00 L227.25 400.00 L227.50 400.00 L227.75 400.00 L228.00 400.00 L228.25 400.00 L228.50 400.00 L228.75 400.00 L229.00 400.00 L229.25 400.00 L229.50 400.00 L229.75 358.22 L230.00 338.35 L230.25 340.22 L230.50 400.00 L230.75 348.14 L231.00 356.39 L231.25 387.83 L231.50 369.60 L231.75 362.00 L232.00 400.00 L232.25 358.41 L232.50 338.05 L232.75 340.07 L233.00 333.79 L233.25 364.94 L233.50 400.00 L233.75 400.00 L234.00 400.00 L234.25 400.00 L234.50 400.00 L234.75 400.00 L235.00 400.00 L235.25 338.70 L235.50 337.34 L235.75 400.00 L236.00 354.90 L236.25 345.83 L236.50 336.02 L236.75 325.71 L237.00 329.10 L237.25 341.51 L237.50 400.00 L237.75 400.00 L238.00 400.00 L238.25 400.00 L238.50 400.00 L238.75 346.62 L239.00 332.03 L239.25 326.51 L239.50 329.01 L239.75 333.61 L240.00 348.34 L240.25 345.20 L240.50 351.36 L240.75 400.00 L241.00 338.37 L241.25 400.00 L241.50 400.00 L241.75 331.55 L242.00 328.55 L242.25 378.44 L242.50 350.63 L242.75 326.69 L243.00 347.97 L243.25 400.00 L243.50 400.00 L243.75 331.24 L244.00 332.45 L244.25 334.01 L244.50 332.36 L244.75 339.84 L245.00 400.00 L245.25 400.00 L245.50 400.00 L245.75 400.00 L246.00 358.69 L246.25 331.63 L246.50 336.82 L246.75 352.53 L247.00 350.87 L247.25 338.84 L247.50 344.89 L247.75 400.00 L248.00 351.97 L248.25 330.88 L248.50 338.51 L248.75 400.00 L249.00 400.00 L249.25 400.00 L249.50 400.00 L249.75 338.08 L250.00 360.82 L250.25 400.00 L250.50 400.00 L250.75 400.00 L251.00 400.00 L251.25 400.00 L251.50 400.00 L251.75 341.07 L252.00 334.61 L252.25 400.00 L252.50 400.00 L252.75 354.27 L253.00 400.00 L253.25 400.00 L253.50 400.00 L253.75 400.00 L254.00 400.00 L254.25 400.00 L254.50 400.00 L254.75 400.00 L255.00 400.00 L255.25 400.00 L255.50 400.00 L255.75 400.00 L256.00 378.04 L256.25 338.49 L256.50 339.99 L256.75 400.00 L257.00 400.00 L257.25 400.00 L257.50 400.00 L257.75 400.00 L258.00 352.09 L258.25 354.06 L258.50 333.54 L258.75 339.40 L259.00 388.84 L259.25 344.10 L259.50 342.89 L259.75 400.00 L260.00 400.00 L260.25 400.00 L260.50 400.00 L260.75 350.87 L261.00 400.00 L261.25 400.00 L261.50 400.00 L261.75 335.64 L262.00 333.98 L262.25 369.29 L262.50 400.00 L262.75 359.61 L263.00 345.39 L263.25 338.59 L263.50 330.21 L263.75 338.72 L264.00 400.00 L264.25 400.00 L264.50 339.26 L264.75 338.78 L265.00 340.88 L265.25 400.00 L265.50 400.00 L265.75 346.49 L266.00 332.10 L266.25 346.06 L266.50 400.00 L266.75 400.00 L267.00 400.00 L267.25 347.23 L267.50 330.89 L267.75 327.62 L268.00 339.37 L268.25 400.00 L268.50 372.74 L268.75 381.61 L269.00 400.00 L269.25 400.00 L269.50 400.00 L269.75 400.00 L270.00 374.78 L270.25 400.00 L270.50 400.00 L270.75 369.06 L271.00 346.75 L271.25 331.59 L271.50 336.07 L271.75 362.66 L272.00 400.00 L272.25 400.00 L272.50 347.51 L272.75 375.87 L273.00 400.00 L273.25 400.00 L273.50 400.00 L273.75 338.54 L274.00 342.14 L274.25 344.79 L274.50 343.24 L274.75 400.00 L275.00 400.00 L275.25 354.56 L275.50 334.60 L275.75 340.10 L276.00 355.84 L276.25 348.52 L276.50 368.69 L276.75 400.00 L277.00 400.00 L277.25 400.00 L277.50 400.00 L277.75 400.00 L278.00 400.00 L278.25 400.00 L278.50 359.31 L278.75 350.91 L279.00 342.27 L279.25 334.00 L279.50 357.70 L279.75 367.08 L280.00 343.72 L280.25 400.00 L280.50 400.00 L280.75 341.01 L281.00 337.05 L281.25 337.32 L281.50 335.47 L281.75 338.08 L282.00 381.38 L282.25 400.00 L282.50 400.00 L282.75 400.00 L283.00 356.05 L283.25 360.46 L283.50 331.99 L283.75 326.05 L284.00 345.40 L284.25 339.15 L284.50 331.89 L284.75 335.68 L285.00 351.80 L285.25 335.78 L285.50 336.68 L285.75 356.09 L286.00 400.00 L286.25 343.53 L286.50 333.15 L286.75 328.44 L287.00 326.72 L287.25 338.48 L287.50 345.28 L287.75 351.04 L288.00 340.76 L288.25 350.42 L288.50 400.00 L288.75 400.00 L289.00 400.00 L289.25 342.85 L289.50 330.37 L289.75 338.02 L290.00 400.00 L290.25 400.00 L290.50 386.18 L290.75 362.10 L291.00 347.20 L291.25 339.08 L291.50 352.34 L291.75 400.00 L292.00 400.00 L292.25 400.00 L292.50 400.00 L292.75 400.00 L293.00 400.00 L293.25 400.00 L293.50 400.00 L293.75 352.41 L294.00 331.83 L294.25 350.26 L294.50 400.00 L294.75 400.00 L295.00 351.98 L295.35 400.00 L295.80 348.96 L296.10 340.37 L296.40 332.88 L296.70 339.38 L297.00 369.28 L297.25 337.21 L297.50 331.00 L297.75 332.57 L298.01 332.71 L298.26 332.94 L298.51 332.10 L298.76 325.48 L299.01 324.46 L299.26 325.01 L299.51 324.06 L299.77 321.68 L300.02 318.81 L300.27 320.49 L300.52 321.75 L300.77 317.90 L301.02 315.29 L301.27 314.85 L301.52 315.81 L301.78 315.30 L302.03 312.17 L302.28 312.80 L302.53 312.19 L302.78 311.79 L303.03 311.90 L303.28 311.88 L303.54 312.28 L303.79 312.09 L304.04 311.42 L304.29 310.16 L304.54 308.94 L304.79 310.30 L305.04 309.85 L305.30 310.30 L305.55 311.32 L305.80 312.04 L306.05 311.47 L306.30 311.55 L306.55 310.72 L306.80 310.77 L307.06 311.44 L307.31 310.35 L307.56 310.79 L307.81 311.39 L308.06 312.20 L308.31 313.40 L308.56 313.18 L308.82 313.64 L309.07 315.61 L309.32 315.56 L309.57 315.19 L309.82 317.27 L310.07 319.17 L310.32 318.65 L310.57 320.39 L310.83 323.21 L311.08 325.91 L311.33 324.35 L311.58 324.94 L311.83 325.37 L312.08 330.98 L312.33 327.50 L312.59 320.50 L312.84 319.30 L313.09 321.83 L313.34 325.42 L313.59 331.22 L313.84 326.46 L314.09 328.86 L314.35 335.58 L314.60 332.51 L314.85 328.51 L315.10 323.53 L315.35 320.98 L315.60 317.48 L315.85 317.66 L316.11 319.19 L316.36 319.13 L316.61 319.21 L316.86 316.60 L317.11 315.81 L317.36 314.50 L317.61 313.09 L317.87 312.03 L318.12 310.74 L318.37 308.90 L318.62 307.86 L318.87 307.42 L319.12 305.80 L319.37 304.37 L319.62 303.21 L319.88 301.95 L320.13 300.78 L320.38 299.81 L320.63 298.80 L320.88 297.78 L321.13 296.87 L321.38 295.99 L321.64 295.16 L321.89 294.42 L322.14 293.67 L322.39 292.96 L322.64 292.31 L322.89 291.74 L323.14 291.27 L323.40 290.86 L323.65 290.52 L323.90 290.30 L324.15 290.15 L324.40 290.03 L324.65 290.00 L324.90 290.07 L325.16 290.21 L325.41 290.38 L325.66 290.66 L325.91 291.03 L326.16 291.46 L326.41 291.94 L326.66 292.53 L326.92 293.24 L327.17 294.16 L327.42 295.28 L327.67 296.54 L327.92 297.90 L328.17 299.29 L328.42 300.69 L328.68 302.17 L328.93 303.73 L329.18 305.36 L329.43 307.05 L329.68 308.78 L329.93 310.54 L330.18 312.33 L330.43 314.12 L330.69 315.90 L330.94 317.62 L331.19 319.14 L331.44 320.57 L331.69 322.08 L331.94 323.81 L332.19 325.91 L332.45 328.55 L332.70 332.67 L332.95 339.31 L333.20 347.00 L333.45 343.30 L333.70 339.78 L333.95 336.47 L334.20 333.42 L334.45 330.67 L334.70 328.24 L334.95 326.08 L335.20 324.14 L335.46 322.33 L335.71 320.58 L335.96 318.84 L336.21 317.02 L336.46 315.09 L336.71 313.07 L336.96 311.03 L337.21 309.03 L337.46 307.13 L337.71 305.38 L337.96 303.86 L338.21 302.69 L338.46 301.61 L338.71 300.25 L338.96 298.09 L339.21 295.00 L339.46 291.46 L339.71 287.98 L339.97 285.03 L340.22 282.77 L340.47 280.74 L340.72 278.88 L340.97 277.12 L341.22 275.40 L341.47 273.67 L341.72 271.85 L341.97 269.99 L342.22 268.13 L342.47 266.27 L342.72 264.41 L342.97 262.55 L343.22 260.70 L343.47 258.84 L343.72 256.99 L343.97 254.99 L344.23 252.82 L344.48 250.88 L344.73 249.52 L344.98 248.78 L345.23 248.23 L345.48 247.79 L345.73 247.37 L345.98 247.01 L346.23 246.75 L346.48 246.59 L346.73 246.46 L346.98 246.40 L347.23 246.44 L347.48 246.56 L347.73 246.73 L347.98 246.96 L348.23 247.31 L348.49 247.72 L348.74 248.20 L348.99 248.77 L349.24 249.40 L349.49 250.04 L349.74 250.75 L349.99 251.74 L350.24 253.89 L350.49 257.22 L350.74 260.41 L350.99 262.61 L351.24 264.42 L351.49 266.03 L351.74 267.62 L351.99 269.37 L352.24 271.46 L352.49 274.14 L352.74 277.51 L353.00 281.33 L353.25 285.35 L353.50 289.31 L353.75 292.96 L354.00 296.10 L354.25 299.07 L354.50 302.41 L354.75 306.81 L355.00 312.50 L355.25 311.59 L355.50 310.19 L355.75 308.38 L356.00 306.27 L356.25 303.97 L356.50 301.11 L356.75 297.46 L357.00 293.30 L357.26 288.92 L357.51 284.60 L357.76 280.21 L358.01 275.60 L358.26 270.90 L358.51 265.82 L358.76 260.60 L359.01 255.78 L359.26 251.84 L359.51 248.49 L359.76 245.43 L360.01 242.64 L360.26 240.07 L360.51 237.68 L360.76 235.44 L361.01 233.26 L361.27 231.15 L361.52 229.11 L361.77 227.16 L362.02 225.32 L362.27 223.60 L362.52 222.02 L362.77 220.61 L363.02 219.36 L363.27 218.30 L363.52 217.39 L363.77 216.59 L364.02 215.84 L364.27 215.10 L364.52 214.33 L364.77 213.50 L365.02 212.69 L365.27 211.97 L365.53 211.34 L365.78 210.77 L366.03 210.31 L366.28 209.90 L366.53 209.55 L366.78 209.32 L367.03 209.16 L367.28 209.04 L367.53 209.00 L367.78 209.06 L368.03 209.19 L368.28 209.36 L368.53 209.62 L368.78 209.99 L369.03 210.41 L369.28 210.90 L369.53 211.49 L369.79 212.13 L370.04 212.88 L370.29 213.70 L370.54 214.52 L370.79 215.18 L371.04 215.73 L371.29 216.34 L371.54 217.16 L371.79 218.33 L372.04 221.46 L372.29 229.96 L372.54 236.76 L372.79 240.80 L373.04 244.19 L373.29 247.13 L373.54 249.79 L373.80 252.36 L374.05 255.03 L374.30 257.91 L374.55 260.54 L374.80 263.04 L375.05 265.72 L375.30 268.89 L375.55 272.93 L375.80 279.25 L376.05 278.26 L376.30 276.61 L376.55 274.46 L376.80 272.00 L377.05 268.76 L377.30 264.45 L377.55 259.57 L377.80 254.60 L378.05 249.93 L378.30 245.25 L378.55 240.31 L378.80 234.80 L379.05 227.63 L379.30 220.86 L379.55 216.86 L379.80 213.72 L380.05 211.03 L380.30 208.72 L380.55 206.67 L380.80 204.82 L381.05 203.05 L381.30 201.30 L381.55 199.61 L381.80 198.00 L382.05 196.47 L382.30 195.00 L382.55 193.61 L382.80 192.29 L383.05 191.04 L383.30 189.85 L383.55 188.72 L383.80 187.65 L384.05 186.65 L384.30 185.74 L384.55 184.94 L384.80 184.22 L385.05 183.55 L385.30 182.98 L385.55 182.51 L385.80 182.08 L386.05 181.76 L386.30 181.56 L386.55 181.40 L386.80 181.31 L387.05 181.32 L387.30 181.43 L387.55 181.60 L387.80 181.81 L388.05 182.16 L388.30 182.60 L388.55 183.09 L388.80 183.68 L389.05 184.36 L389.30 185.09 L389.55 185.91 L389.80 186.83 L390.05 187.88 L390.30 188.99 L390.55 190.17 L390.80 191.44 L391.05 192.79 L391.30 194.24 L391.55 195.80 L391.80 197.47 L392.05 199.26 L392.30 201.19 L392.55 203.30 L392.80 205.76 L393.05 208.58 L393.30 211.74 L393.55 215.22 L393.80 219.00 L394.05 223.76 L394.30 229.49 L394.55 235.11 L394.80 239.74 L395.05 244.05 L395.30 248.20 L395.55 252.04 L395.80 255.42 L396.05 258.19 L396.30 260.26 L396.55 262.06 L396.80 263.61 L397.05 264.80 L397.30 265.50 L397.55 265.27 L397.80 264.62 L398.05 263.58 L398.30 262.23 L398.55 260.59 L398.80 258.47 L399.05 253.94 L399.30 247.58 L399.55 240.65 L399.80 234.03 L400.05 226.89 L400.30 219.00 L400.55 208.26 L400.80 201.36 L401.05 198.50 L401.30 196.17 L401.55 194.28 L401.80 192.73 L402.05 191.45 L402.30 190.33 L402.55 189.30 L402.80 188.26 L403.05 187.12 L403.30 185.90 L403.55 184.78 L403.80 183.79 L404.05 182.89 L404.30 182.08 L404.55 181.39 L404.80 180.81 L405.05 180.29 L405.30 179.92 L405.55 179.68 L405.80 179.50 L406.05 179.40 L406.30 179.45 L406.55 179.60 L406.80 179.82 L407.05 180.12 L407.30 180.59 L407.55 181.15 L407.80 181.79 L408.05 182.56 L408.30 183.42 L408.55 184.36 L408.80 185.42 L409.05 186.61 L409.30 187.94 L409.55 189.36 L409.80 190.89 L410.05 192.53 L410.30 194.30 L410.55 196.22 L410.80 198.30 L411.05 200.56 L411.30 203.04 L411.55 206.04 L411.80 209.53 L412.05 213.35 L412.30 217.37 L412.55 221.58 L412.80 226.33 L413.05 231.32 L413.30 236.18 L413.55 240.74 L413.80 245.49 L414.05 250.18 L414.30 254.44 L414.55 257.93 L414.80 260.39 L415.05 262.58 L415.30 264.61 L415.55 266.38 L415.80 267.79 L416.05 268.73 L416.30 269.10 L416.55 268.75 L416.80 267.77 L417.05 266.26 L417.31 264.29 L417.56 261.98 L417.81 259.40 L418.06 255.35 L418.31 249.30 L418.56 242.09 L418.82 233.74 L419.07 222.76 L419.32 217.09 L419.57 213.57 L419.82 210.67 L420.07 208.27 L420.32 206.26 L420.58 204.52 L420.83 202.91 L421.08 201.33 L421.33 199.66 L421.58 198.04 L421.83 196.62 L422.08 195.52 L422.34 194.66 L422.59 193.96 L422.84 193.37 L423.09 192.84 L423.34 192.39 L423.59 192.10 L423.85 191.89 L424.10 191.74 L424.35 191.70 L424.60 191.79 L424.85 191.97 L425.10 192.19 L425.35 192.55 L425.61 193.04 L425.86 193.59 L426.11 194.25 L426.36 195.03 L426.61 195.85 L426.86 196.66 L427.12 197.50 L427.37 198.49 L427.62 199.73 L427.87 201.49 L428.12 204.26 L428.37 207.76 L428.62 211.67 L428.88 215.65 L429.13 219.39 L429.38 223.14 L429.63 227.10 L429.88 231.08 L430.13 234.94 L430.38 238.51 L430.64 241.68 L430.89 244.62 L431.14 247.39 L431.39 250.00 L431.64 252.49 L431.89 254.88 L432.15 257.16 L432.40 259.33 L432.65 261.38 L432.90 263.30 L433.15 260.69 L433.40 257.79 L433.65 254.63 L433.90 251.14 L434.15 247.26 L434.40 243.19 L434.65 239.11 L434.91 234.83 L435.16 230.35 L435.41 225.86 L435.66 221.55 L435.91 217.63 L436.16 214.27 L436.41 211.21 L436.66 208.34 L436.91 205.71 L437.16 203.36 L437.41 201.33 L437.66 199.60 L437.91 197.99 L438.16 196.62 L438.41 195.63 L438.66 195.04 L438.92 194.56 L439.17 194.18 L439.42 193.91 L439.67 193.77 L439.92 193.68 L440.17 193.62 L440.42 193.60 L440.67 193.62 L440.92 193.68 L441.17 193.77 L441.42 193.92 L441.67 194.25 L441.92 194.73 L442.17 195.30 L442.42 195.92 L442.68 196.69 L442.93 197.69 L443.18 199.01 L443.43 201.02 L443.68 205.00 L443.93 209.98 L444.18 214.67 L444.43 218.63 L444.68 222.54 L444.93 226.37 L445.18 230.10 L445.43 233.71 L445.68 237.16 L445.93 240.43 L446.18 243.47 L446.44 246.31 L446.69 249.01 L446.94 251.64 L447.19 254.25 L447.44 256.91 L447.69 259.68 L447.94 262.63 L448.19 265.79 L448.44 269.18 L448.69 272.86 L448.94 276.90 L449.19 281.27 L449.44 285.86 L449.69 290.53 L449.94 295.18 L450.19 299.64 L450.45 303.87 L450.70 308.15 L450.95 312.70 L451.20 317.24 L451.45 320.87 L451.70 325.89 L451.95 327.85 L452.20 328.94 L452.50 400.00 L452.75 400.00 L453.00 400.00 L453.25 400.00 L453.50 400.00 L453.75 400.00 L454.00 400.00 L454.25 400.00 L454.50 339.83 L454.75 339.39 L455.00 345.26 L455.25 343.57 L455.50 340.51 L455.75 344.19 L456.00 343.17 L456.25 400.00 L456.50 400.00 L456.75 400.00 L457.00 358.06 L457.25 400.00 L457.50 373.08 L457.75 335.96 L458.00 350.11 L458.25 376.63 L458.50 339.29 L458.75 332.63 L459.00 340.92 L459.25 345.58 L459.50 400.00 L459.75 400.00 L460.00 347.94 L460.25 338.61 L460.50 362.71 L460.75 400.00 L461.00 400.00 L461.25 400.00 L461.50 400.00 L461.75 363.57 L462.00 400.00 L462.25 349.01 L462.50 339.58 L462.75 343.13 L463.00 338.40 L463.25 339.43 L463.50 400.00 L463.75 400.00 L464.00 400.00 L464.25 400.00 L464.50 390.68 L464.75 400.00 L465.00 400.00 L465.25 400.00 L465.50 400.00 L465.75 400.00 L466.00 400.00 L466.25 400.00 L466.50 400.00 L466.75 400.00 L467.00 400.00 L467.25 354.89 L467.50 400.00 L467.75 400.00 L468.00 349.46 L468.25 400.00 L468.50 400.00 L468.75 400.00 L469.00 369.08 L469.25 357.95 L469.50 400.00 L469.75 366.53 L470.00 340.91 L470.25 343.95 L470.50 400.00 L470.75 352.08 L471.00 400.00 L471.25 400.00 L471.50 400.00 L471.75 400.00 L472.00 400.00 L472.25 350.91 L472.50 345.57 L472.75 351.34 L473.00 348.73 L473.25 349.27 L473.50 400.00 L473.75 400.00 L474.00 400.00 L474.25 400.00 L474.50 400.00 L474.75 400.00 L475.00 400.00 L475.25 400.00 L475.50 356.91 L475.75 333.81 L476.00 337.22 L476.25 369.58 L476.50 400.00 L476.75 400.00 L477.00 400.00 L477.25 400.00 L477.50 400.00 L477.75 358.29 L478.00 340.26 L478.25 336.50 L478.50 346.09 L478.75 400.00 L479.00 400.00 L479.25 400.00 L479.50 400.00 L479.75 359.88 L480.00 351.24 L480.25 347.42 L480.50 340.93 L480.75 342.25 L481.00 354.95 L481.25 369.18 L481.50 339.48 L481.75 339.88 L482.00 339.47 L482.25 339.61 L482.50 338.59 L482.75 346.23 L483.00 356.83 L483.25 400.00 L483.50 400.00 L483.75 400.00 L484.00 400.00 L484.25 400.00 L484.50 400.00 L484.75 339.51 L485.00 393.94 L485.25 354.82 L485.50 335.31 L485.75 346.69 L486.00 346.11 L486.25 346.68 L486.50 400.00 L486.75 400.00 L487.00 400.00 L487.25 400.00 L487.50 400.00 L487.75 400.00 L488.00 400.00 L488.25 400.00 L488.50 349.84 L488.75 366.87 L489.00 400.00 L489.25 400.00 L489.50 351.41 L489.75 331.11 L490.00 326.87 L490.25 335.86 L490.50 347.71 L490.75 346.40 L491.00 348.37 L491.25 344.46 L491.50 346.99 L491.75 393.44 L492.00 400.00 L492.25 356.19 L492.50 341.59 L492.75 339.74 L493.00 334.04 L493.25 336.32 L493.50 340.76 L493.75 339.39 L494.00 353.63 L494.25 336.85 L494.50 332.79 L494.75 346.33 L495.00 351.54 L495.25 336.87 L495.50 333.56 L495.75 338.89 L496.00 342.24 L496.25 340.37 L496.50 357.16 L496.75 400.00 L497.00 400.00 L497.25 400.00 L497.50 400.00 L497.75 400.00 L498.00 400.00 L498.25 400.00 L498.50 400.00 L498.75 400.00 L499.00 400.00 L499.25 339.33 L499.50 331.09 L499.75 329.81 L500.00 330.53 L500.25 333.96 L500.50 346.35 L500.75 400.00 L501.00 400.00 L501.25 400.00 L501.50 400.00 L501.75 400.00 L502.00 344.45 L502.25 360.38 L502.50 400.00 L502.75 400.00 L503.00 400.00 L503.25 400.00 L503.50 400.00 L503.75 400.00 L504.00 400.00 L504.25 400.00 L504.50 400.00 L504.75 350.02 L505.00 400.00 L505.25 400.00 L505.50 400.00 L505.75 394.14 L506.00 361.46 L506.25 400.00 L506.50 400.00 L506.75 350.14 L507.00 358.35 L507.25 400.00 L507.50 400.00 L507.75 400.00 L508.00 337.57 L508.25 339.69 L508.50 400.00 L508.75 400.00 L509.00 336.26 L509.25 330.65 L509.50 333.51 L509.75 352.07 L510.00 400.00 L510.25 400.00 L510.50 400.00 L510.75 400.00 L511.00 400.00 L511.25 400.00 L511.50 400.00 L511.75 383.77 L512.00 400.00 L512.25 400.00 L512.50 356.17 L512.75 345.04 L513.00 336.35 L513.25 341.13 L513.50 400.00 L513.75 400.00 L514.00 400.00 L514.25 400.00 L514.50 400.00 L514.75 349.56 L515.00 341.58 L515.25 353.91 L515.50 400.00 L515.75 400.00 L516.00 400.00 L516.25 361.77 L516.50 357.72 L516.75 400.00 L517.00 400.00 L517.25 400.00 L517.50 390.44 L517.75 342.09 L518.00 351.30 L518.25 400.00 L518.50 400.00 L518.75 342.42 L519.00 342.15 L519.25 346.21 L519.50 400.00 L519.75 400.00 L520.00 400.00 L520.25 400.00 L520.50 400.00 L520.75 400.00 L521.00 357.61 L521.25 350.54 L521.50 346.73 L521.75 343.55 L522.00 400.00 L522.25 400.00 L522.50 400.00 L522.75 346.38 L523.00 357.72 L523.25 337.58 L523.50 335.47 L523.75 359.01 L524.00 400.00 L524.25 400.00 L524.50 400.00 L524.75 400.00 L525.00 400.00 L525.25 400.00 L525.50 400.00 L525.75 400.00 L526.00 400.00 L526.25 400.00 L526.50 400.00 L526.75 337.02 L527.00 330.84 L527.25 346.32 L527.50 400.00 L527.75 400.00 L528.00 400.00 L528.25 400.00 L528.50 400.00 L528.75 400.00 L529.00 400.00 L529.25 400.00 L529.50 370.73 L529.75 400.00 L530.00 400.00 L530.25 400.00 L530.50 337.25 L530.75 351.53 L531.00 400.00 L531.25 400.00 L531.50 343.90 L531.75 347.19 L532.00 400.00 L532.25 400.00 L532.50 400.00 L532.75 400.00 L533.00 349.03 L533.25 346.88 L533.50 355.51 L533.75 362.02 L534.00 400.00 L534.25 400.00 L534.50 400.00 L534.75 354.92 L535.00 352.65 L535.25 341.29 L535.50 352.41 L535.75 400.00 L536.00 400.00 L536.25 400.00 L536.50 400.00 L536.75 400.00 L537.00 343.61 L537.25 347.04 L537.50 400.00 L537.75 346.37 L538.00 341.25 L538.25 354.35 L538.50 339.65 L538.75 331.85 L539.00 338.34 L539.25 342.76 L539.50 347.09 L539.75 400.00 L540.00 400.00 L540.25 400.00 L540.50 400.00 L540.75 358.83 L541.00 400.00 L541.25 400.00 L541.50 400.00 L541.75 400.00 L542.00 355.18 L542.25 373.25 L542.50 400.00 L542.75 400.00 L543.00 400.00 L543.25 400.00 L543.50 400.00 L543.75 332.00 L544.00 325.44 L544.25 335.61 L544.50 400.00 L544.75 400.00 L545.00 354.01 L545.25 400.00 L545.50 400.00 L545.75 400.00 L546.00 400.00 L546.25 400.00 L546.50 353.59 L546.75 381.66 L547.00 354.01 L547.25 341.51 L547.50 400.00 L547.75 400.00 L548.00 347.40 L548.25 332.68 L548.50 340.28 L548.75 400.00 L549.00 400.00 L549.25 400.00 L549.50 337.42 L549.75 333.82 L550.00 344.32 L550.25 400.00 L550.50 400.00 L550.75 400.00 L551.00 400.00 L551.25 400.00 L551.50 400.00 L551.75 400.00 L552.00 347.00 L552.25 343.38 L552.50 349.72 L552.75 353.47 L553.00 400.00 L553.25 400.00 L553.50 400.00 L553.75 400.00 L554.00 400.00 L554.25 400.00 L554.50 375.71 L554.75 345.43 L555.00 354.23 L555.25 360.19 L555.50 357.60 L555.75 358.90 L556.00 344.72 L556.25 340.75 L556.50 349.89 L556.75 400.00 L557.00 400.00 L557.25 400.00 L557.50 400.00 L557.75 400.00 L558.00 400.00 L558.25 400.00 L558.50 400.00 L558.75 400.00 L559.00 351.65 L559.25 342.66 L559.50 349.48 L559.75 400.00 L560.00 400.00 L560.25 375.51 L560.50 334.13 L560.75 334.46 L561.00 351.52 L561.25 340.57 L561.50 335.92 L561.75 400.00 L562.00 387.57 L562.25 339.54 L562.50 345.54 L562.75 372.10 L563.00 338.46 L563.25 336.04 L563.50 350.33 L563.75 400.00 L564.00 400.00 L564.25 339.51 L564.50 339.56 L564.75 343.97 L565.00 347.13 L565.25 340.34 L565.50 346.00 L565.75 344.46 L566.00 357.57 L566.25 400.00 L566.50 354.65 L566.75 400.00 L567.00 400.00 L567.25 400.00 L567.50 400.00 L567.75 400.00 L568.00 400.00 L568.25 400.00 L568.50 400.00 L568.75 340.25 L569.00 333.05 L569.25 336.99 L569.50 332.72 L569.75 342.31 L570.00 400.00 L570.25 400.00 L570.50 400.00 L570.75 400.00 L571.00 365.34 L571.25 400.00 L571.50 360.82 L571.75 350.56 L572.00 400.00 L572.25 400.00 L572.50 400.00 L572.75 400.00 L573.00 358.05 L573.25 356.25 L573.50 400.00 L573.75 400.00 L574.00 400.00 L574.25 356.06 L574.50 338.15 L574.75 339.17 L575.00 400.00 L575.25 400.00 L575.50 400.00 L575.75 400.00 L576.00 400.00 L576.25 400.00 L576.50 400.00 L576.75 400.00 L577.00 400.00 L577.25 351.99 L577.50 331.75 L577.75 335.80 L578.00 342.98 L578.25 350.33 L578.50 346.09 L578.75 337.44 L579.00 389.46 L579.25 400.00 L579.50 400.00 L579.75 400.00 L580.00 400.00 L580.25 400.00 L580.50 400.00 L580.75 400.00 L581.00 400.00 L581.25 400.00 L581.50 370.69 L581.75 400.00 L582.00 400.00 L582.25 400.00 L582.50 366.16 L582.75 400.00 L583.00 365.94 L583.25 358.36 L583.50 354.14 L583.75 348.28 L584.00 354.70 L584.25 400.00 L584.50 364.41 L584.75 347.94 L585.00 352.16 L585.25 341.19 L585.50 334.87 L585.75 337.57 L586.00 341.04 L586.25 359.73 L586.50 356.43 L586.75 347.72 L587.00 347.50 L587.25 341.28 L587.50 339.15 L587.75 378.01 L588.00 400.00 L588.25 400.00 L588.50 400.00 L588.75 400.00 L589.00 342.46 L589.25 347.04 L589.50 346.71 L589.75 341.77 L590.00 337.84 L590.25 343.95 L590.50 400.00 L590.75 400.00 L591.00 400.00 L591.25 363.89 L591.50 400.00 L591.75 400.00 L592.00 372.68 L592.25 400.00 L592.50 400.00 L592.75 364.19 L593.00 400.00 L593.25 400.00 L593.50 400.00 L593.75 400.00 L594.00 400.00 L594.25 400.00 L594.50 400.00 L594.75 350.00 L595.00 400.00 L595.25 400.00 L595.50 400.00 L595.75 400.00 L596.00 346.05 L596.25 352.81 L596.50 348.41 L596.75 356.99 L597.00 400.00 L597.25 400.00 L597.50 400.00 L597.75 400.00 L598.00 400.00 L598.25 400.00 L598.50 393.32 L598.75 400.00 L599.00 376.35 L599.25 355.45 L599.50 400.00 L599.75 400.00 L600.00 400.00 L600.25 350.80 L600.50 344.56 L600.75 350.51 L601.00 372.49 L601.25 400.00 L601.50 363.09 L601.75 400.00 L602.00 400.00 L602.25 400.00 L602.50 400.00 L602.75 400.00 L603.00 400.00 L603.25 355.53 L603.50 378.47 L603.75 400.00 L604.00 400.00 L604.25 343.23 L604.50 345.84 L604.75 346.98 L605.00 358.61 L605.25 360.84 L605.50 371.19 L605.75 400.00 L606.00 400.00 L606.25 400.00 L606.50 362.40 L606.75 360.40 L607.00 351.96 L607.25 352.92 L607.50 400.00 L607.75 358.88 L608.00 400.00 L608.25 400.00 L608.50 400.00 L608.75 400.00 L609.00 400.00 L609.25 352.21 L609.50 352.62 L609.75 341.27 L610.00 343.89 L610.25 400.00 L610.50 400.00 L610.75 400.00 L611.00 359.96 L611.25 342.03 L611.50 337.13 L611.75 349.18 L612.00 352.10 L612.25 400.00 L612.50 400.00 L612.75 359.25 L613.00 345.14 L613.25 340.12 L613.50 341.67 L613.75 341.76 L614.00 370.53 L614.25 400.00 L614.50 400.00 L614.75 400.00 L615.00 362.12 L615.25 400.00 L615.50 400.00 L615.75 400.00 L616.00 400.00 L616.25 400.00 L616.50 357.30 L616.75 357.35 L617.00 344.51 L617.25 345.34 L617.50 360.03 L617.75 400.00 L618.00 400.00 L618.25 358.46 L618.50 400.00 L618.75 400.00 L619.00 400.00 L619.25 346.79 L619.50 337.84 L619.75 344.79 L620.00 400.00 L620.25 400.00 L620.50 400.00 L620.75 400.00 L621.00 400.00 L621.25 339.45 L621.50 339.36 L621.75 354.42 L622.00 372.52 L622.25 345.81 L622.50 351.54 L622.75 345.37 L623.00 341.82 L623.25 356.04 L623.50 400.00 L623.75 400.00 L624.00 400.00 L624.25 400.00 L624.50 400.00 L624.75 348.04 L625.00 338.18 L625.25 339.44 L625.50 400.00 L625.75 400.00 L626.00 374.53 L626.25 347.60 L626.50 348.83 L626.75 381.87 L627.00 400.00 L627.25 400.00 L627.50 400.00 L627.75 400.00 L628.00 365.43 L628.25 382.81 L628.50 400.00 L628.75 400.00 L629.00 400.00 L629.25 356.70 L629.50 341.15 L629.75 340.13 L630.00 367.57 L630.25 369.85 L630.50 345.16 L630.75 343.52 L631.00 400.00 L631.25 380.68 L631.50 400.00 L631.75 400.00 L632.00 400.00 L632.25 400.00 L632.50 354.26 L632.75 384.26 L633.00 352.67 L633.25 361.13 L633.50 400.00 L633.75 400.00 L634.00 400.00 L634.25 400.00 L634.50 400.00 L634.75 400.00 L635.00 400.00 L635.25 347.22 L635.50 357.26 L635.75 378.45 L636.00 363.07 L636.25 359.91 L636.50 341.13 L636.75 343.63 L637.00 400.00 L637.25 345.37 L637.50 340.38 L637.75 342.92 L638.00 337.58 L638.25 330.99 L638.50 328.35 L638.75 331.90 L639.00 341.65 L639.25 349.30 L639.50 400.00 L639.75 349.50 L640.00 338.46 L640.25 342.91 L640.50 355.54 L640.75 336.76 L641.00 334.97 L641.25 358.11 L641.50 400.00 L641.75 400.00 L642.00 400.00 L642.25 400.00 L642.50 400.00 L642.75 340.19 L643.00 400.00 L643.25 400.00 L643.50 354.89 L643.75 351.18 L644.00 400.00 L644.25 400.00 L644.50 350.52 L644.75 342.10 L645.00 345.79 L645.25 400.00 L645.50 400.00 L645.75 346.44 L646.00 387.73 L646.25 400.00 L646.50 400.00 L646.75 400.00 L647.00 400.00 L647.25 347.93 L647.50 339.84 L647.75 343.30 L648.00 366.58 L648.25 400.00 L648.50 400.00 L648.75 337.26 L649.00 330.64 L649.25 343.54 L649.50 400.00 L649.75 400.00 L650.00 342.54" stroke="#d62728"/>
</g>
<rect x="90.5" y="52.5" width="558" height="326" fill="none" stroke="#d2d2d2" stroke-width="1"/>
<text x="90.30" y="392.0" font-size="14.6" text-anchor="middle" textLength="22.65" lengthAdjust="spacingAndGlyphs">840</text>
<text x="164.70" y="392.0" font-size="14.6" text-anchor="middle" textLength="22.65" lengthAdjust="spacingAndGlyphs">842</text>
<text x="239.10" y="392.0" font-size="14.6" text-anchor="middle" textLength="22.65" lengthAdjust="spacingAndGlyphs">844</text>
<text x="313.50" y="392.0" font-size="14.6" text-anchor="middle" textLength="22.65" lengthAdjust="spacingAndGlyphs">846</text>
<text x="387.90" y="392.0" font-size="14.6" text-anchor="middle" textLength="22.65" lengthAdjust="spacingAndGlyphs">848</text>
<text x="462.30" y="392.0" font-size="14.6" text-anchor="middle" textLength="22.65" lengthAdjust="spacingAndGlyphs">850</text>
<text x="536.70" y="392.0" font-size="14.6" text-anchor="middle" textLength="22.65" lengthAdjust="spacingAndGlyphs">852</text>
<text x="611.10" y="392.0" font-size="14.6" text-anchor="middle" textLength="22.65" lengthAdjust="spacingAndGlyphs">854</text>
<text x="86.4" y="353.55" font-size="14.6" text-anchor="end" textLength="23.03" lengthAdjust="spacingAndGlyphs">−80</text>
<text x="86.4" y="294.25" font-size="14.6" text-anchor="end" textLength="23.03" lengthAdjust="spacingAndGlyphs">−60</text>
<text x="86.4" y="234.95" font-size="14.6" text-anchor="end" textLength="23.03" lengthAdjust="spacingAndGlyphs">−40</text>
<text x="86.4" y="175.64" font-size="14.6" text-anchor="end" textLength="23.03" lengthAdjust="spacingAndGlyphs">−20</text>
<text x="86.4" y="116.34" font-size="14.6" text-anchor="end" textLength="7.55" lengthAdjust="spacingAndGlyphs">0</text>
<text x="86.4" y="57.04" font-size="14.6" text-anchor="end" textLength="15.10" lengthAdjust="spacingAndGlyphs">20</text>
<text x="368.6" y="412.0" font-size="17.1" text-anchor="middle" textLength="128.6" lengthAdjust="spacingAndGlyphs">Wavelength [nm]</text>
<text transform="translate(54.0 215.4) rotate(-90)" font-size="17.1" text-anchor="middle" textLength="142.3" lengthAdjust="spacingAndGlyphs">Optical Power [dB]</text>
<text x="368.9" y="45.8" font-size="17.1" text-anchor="middle" textLength="161.0" lengthAdjust="spacingAndGlyphs">D4657 V20763 Ch. 3</text>
<rect x="97.5" y="59.5" width="147" height="68" rx="2.5" ry="2.5" fill="#fff" fill-opacity="0.8" stroke="#cccccc" stroke-width="1"/>
<path d="M102.4 71.00H132.6" stroke="#bcbd22" stroke-width="1.7" stroke-opacity="0.9" fill="none"/>
<text x="143.2" y="76.10" font-size="15.0" textLength="94.3" lengthAdjust="spacingAndGlyphs">OptoBoard QA</text>
<path d="M102.4 91.90H132.6" stroke="#ff7f0e" stroke-width="1.7" stroke-opacity="0.9" fill="none"/>
<text x="143.2" y="97.00" font-size="15.0" textLength="79.5" lengthAdjust="spacingAndGlyphs">Post Burn-In</text>
<path d="M102.4 112.80H132.6" stroke="#d62728" stroke-width="1.7" stroke-opacity="0.9" fill="none"/>
<text x="143.2" y="117.90" font-size="15.0" textLength="73.1" lengthAdjust="spacingAndGlyphs">Pre Burn-In</text>
</svg>
</body></html>
